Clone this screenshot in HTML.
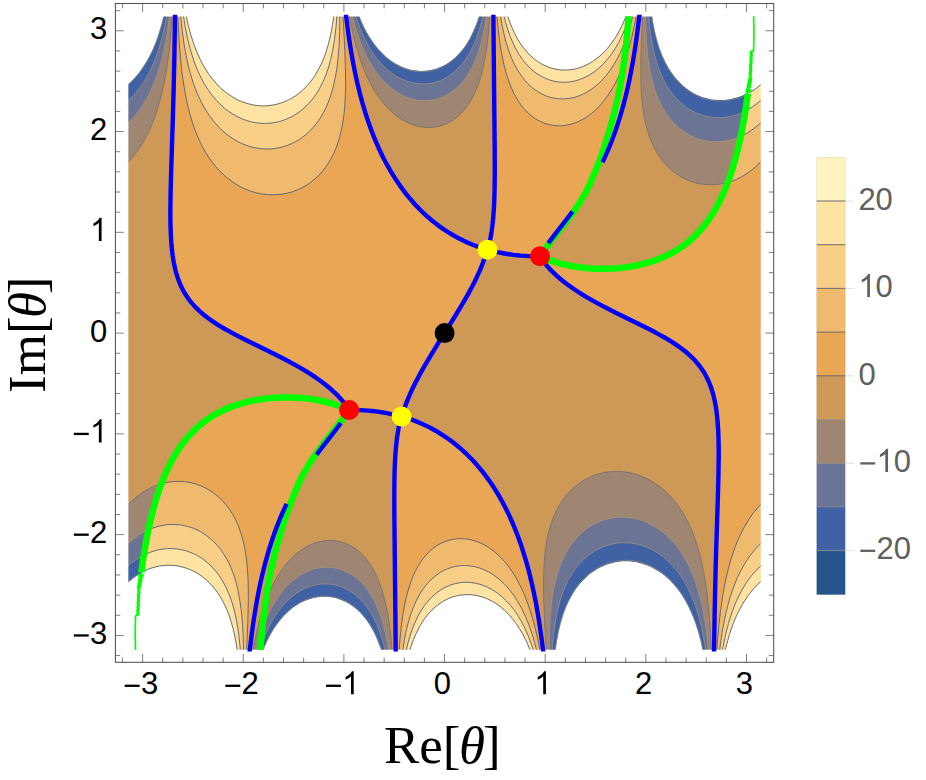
<!DOCTYPE html>
<html><head><meta charset="utf-8"><title>Contour plot</title>
<style>html,body{margin:0;padding:0;background:#fff}svg{display:block}text{font-family:"Liberation Sans",sans-serif}.se{font-family:"Liberation Serif",serif}</style></head><body>
<svg width="926" height="780" viewBox="0 0 926 780">
<defs><clipPath id="pc"><rect x="126.85" y="15.02" width="635.4" height="636.16"/></clipPath><clipPath id="pc3"><rect x="128.35" y="16.32" width="632.4" height="633.56"/></clipPath><clipPath id="pc2"><rect x="127.35" y="14.72" width="634.4" height="636.76"/></clipPath></defs>
<rect width="926" height="780" fill="#fff"/>
<g clip-path="url(#pc)">
<rect x="126.35" y="14.52" width="636.4" height="637.16" fill="#CE9957"/>
<path fill="#E9A755" fill-rule="evenodd" d="M134.3,652.5 249.5,652.5 252.1,631.4 255,611.7 258.3,593.1 262,576 264.1,567.4 266.2,559.3 268.4,551.6 270.9,543.5 273.4,536 276,529 278.5,522.5 281.5,515.2 287,503 290.1,497 293.6,490.3 297.1,484.1 300.6,478.2 308.2,466.5 313.2,459.3 318.7,451.8 335.3,430.3 340.2,423.8 345,416.7 347.3,413.2 348.9,410.2 349.4,410 353,410 361,410.1 368.6,410.6 376.1,411.4 383.7,412.6 391.7,414.2 397,415.7 399.1,416.7 399.6,417.2 400.1,418.3 400.1,419.3 400,420.8 397.5,434.9 396.7,440.9 396,447 395,461.1 394.5,477.7 394.3,494.8 394.4,516.5 395.7,652.5 543.3,652.5 541.7,639.5 540,627.3 538.2,615.6 536.1,604.2 534,593.1 531.6,582.5 529.1,572.2 526.6,562.9 523.6,552.8 520.5,543.6 517.5,535.3 514,526.4 510.5,518.2 506.4,509.8 502.4,502 498.4,494.9 493.9,487.6 489.3,480.9 484.8,474.7 479.8,468.3 474.7,462.5 469.2,456.7 463.7,451.4 458.1,446.5 452.6,442.1 447.1,438 441.5,434.3 436,431 429.5,427.4 422.4,424 416.4,421.4 405.3,417 403.8,416 403.3,415.2 403.2,414.7 403.3,412.7 404.1,409.7 405.5,405.2 407.6,399.6 410,394.1 412.5,388.5 415.5,382.5 418.7,376.4 424.3,366.4 430.8,355.3 453.3,319 461.3,305.9 468.5,293.3 474.1,282.7 479.1,272.1 483,262.6 484.6,258 485.6,254.5 485.9,252.5 485.8,251 485.6,250.5 485.1,250 483.3,249 472.7,244.8 466.7,242.2 460.2,239.1 453.6,235.5 448.1,232.2 442,228.2 436.5,224.1 431,219.7 425.4,214.8 419.9,209.5 414.4,203.7 409.3,197.9 404.3,191.5 399.8,185.3 395.2,178.6 390.7,171.3 386.7,164.2 382.7,156.4 378.6,148 375.1,139.8 371.6,130.9 368.6,122.6 365.5,113.4 362.5,103.3 360,94 357.5,83.7 355.1,73.1 353,62 350.9,50.6 349.1,38.9 347.4,26.7 345.8,13.7 175.1,13.7 174.5,52.5 173.7,88.7 170.6,191 170.4,209.2 170.5,223.8 170.8,233.8 171.4,242.9 172.2,251.5 173.2,259 174.5,266.1 176.1,272.6 178,278.7 180.4,284.7 182.8,289.8 185.4,294.2 188.1,298.3 191.4,302.6 194.9,306.6 199,310.5 203.4,314.5 208,318 212.6,321.2 217.6,324.5 223.4,328.1 229.7,331.6 243.2,338.7 272.8,353.3 286.6,360.3 300.3,367.9 306.2,371.4 311.8,374.9 318.5,379.5 324,383.5 329,387.5 334.1,392.1 338.7,396.6 342.8,401.1 346.3,405.7 348.9,409.7 348.4,409.9 347.9,409.4 347.4,409.4 346.9,408.9 346.4,408.9 345.9,408.4 345.4,408.4 344.9,407.9 343.9,407.9 343.4,407.4 342.9,407.4 342.4,406.9 341.4,406.9 340.9,406.4 339.9,406.4 339.4,405.9 338.4,405.9 337.9,405.4 337.4,405.4 336.9,404.9 335.8,404.9 335.3,404.4 333.8,404.4 333.3,403.9 332.3,403.9 331.8,403.4 330.8,403.4 330.3,402.9 328.8,402.9 328.3,402.4 326.8,402.4 326.3,401.9 324.8,401.9 324.3,401.4 322.3,401.4 321.8,400.9 320.2,400.9 319.7,400.4 317.7,400.4 317.2,399.9 314.7,399.9 314.2,399.4 311.2,399.4 310.7,398.9 307.7,398.9 307.2,398.3 302.6,398.3 302.1,397.8 295.6,397.8 295.1,397.3 278,397.3 277.5,397.8 270.4,397.8 269.9,398.3 265.9,398.3 265.4,398.9 261.9,398.9 261.4,399.4 258.9,399.4 258.3,399.9 255.8,399.9 255.3,400.4 253.3,400.4 252.8,400.9 250.8,400.9 250.3,401.4 248.8,401.4 248.3,401.9 246.8,401.9 246.3,402.4 244.8,402.4 244.3,402.9 242.7,402.9 242.2,403.4 241.2,403.4 240.7,403.9 239.2,403.9 238.7,404.4 237.7,404.4 237.2,404.9 236.2,404.9 235.7,405.4 234.7,405.4 234.2,405.9 233.2,405.9 232.7,406.4 232.2,406.4 231.7,406.9 230.7,406.9 230.2,407.4 229.7,407.4 229.2,407.9 228.2,407.9 227.6,408.4 227.1,408.4 226.6,408.9 225.6,408.9 225.1,409.4 224.6,409.4 224.1,409.9 223.6,409.9 223.1,410.4 222.6,410.4 222.1,410.9 221.6,410.9 221.1,411.4 220.6,411.4 220.1,412 219.6,412 219.1,412.5 218.6,412.5 218.1,413 217.6,413 217.1,413.5 216.6,413.5 216.1,414 215.6,414 214.6,415 214.1,415 213.6,415.5 213.1,415.5 212,416.5 211.5,416.5 210.5,417.5 210,417.5 209.5,418 209,418 207.5,419.5 207,419.5 206,420.5 205.5,420.5 204,422 203.5,422 202,423.5 201.5,423.5 198.5,426.6 198,426.6 188.1,436.4 188.1,436.9 185.6,439.4 185.6,439.9 183.6,441.9 183.6,442.4 182.1,443.9 182.1,444.5 180.6,446 180.6,446.5 179.6,447.5 179.6,448 178.6,449 178.6,449.5 177.6,450.5 177.6,451 176.6,452 176.6,452.5 176.1,453 176.1,453.5 175.1,454.5 175.1,455 174.6,455.5 174.6,456 173.5,457 173.5,457.6 173,458.1 173,458.6 172.5,459.1 172.5,459.6 171.5,460.6 171.5,461.1 171,461.6 171,462.1 170.5,462.6 170.5,463.1 170,463.6 170,464.1 169.5,464.6 169.5,465.1 169,465.6 169,466.1 168.5,466.6 168.5,467.1 168,467.6 168,468.1 167.5,468.6 167.5,469.1 167,469.6 167,470.7 166.5,471.2 166.5,471.7 166,472.2 166,472.7 165.5,473.2 165.5,473.7 165,474.2 165,475.2 164.5,475.7 164.5,476.2 164,476.7 164,477.2 163.5,477.7 163.5,478.7 163,479.2 163,479.7 162.5,480.2 162.5,481.2 162,481.7 162,482.7 161.5,483.2 161.5,483.8 161,484.3 161,485.3 160.5,485.8 160.5,486.8 160,487.3 160,487.8 159.5,488.3 159.5,489.3 159,489.8 159,490.8 158.5,491.3 158.5,492.3 157.9,492.8 157.9,493.8 157.4,494.3 157.4,495.3 156.9,495.8 156.9,496.9 156.4,497.4 156.4,498.9 155.9,499.4 155.9,500.4 155.4,500.9 155.4,501.9 154.9,502.4 154.9,503.9 154.4,504.4 154.4,505.4 153.9,505.9 153.9,507.4 153.4,507.9 153.4,509.4 152.9,510 152.9,511 152.4,511.5 152.4,513 151.9,513.5 151.9,515 151.4,515.5 151.4,517 150.9,517.5 150.9,519.5 150.4,520 150.4,521.5 149.9,522 149.9,523.6 149.4,524.1 149.4,526.1 148.9,526.6 148.9,528.1 148.4,528.6 148.4,530.6 147.9,531.1 147.9,533.1 147.4,533.6 147.4,535.6 146.9,536.2 146.9,538.2 146.4,538.7 146.4,541.2 145.9,541.7 145.9,543.7 145.4,544.2 145.4,546.7 144.9,547.2 144.9,549.8 144.4,550.3 144.4,552.8 143.9,553.3 143.9,555.8 143.4,556.3 143.4,559.3 142.9,559.8 142.9,562.4 142.3,562.9 142.3,565.9 141.8,566.4 141.8,569.9 141.3,570.4 141.3,573.4 140.8,573.9 140.8,577.5 140.3,578 140.3,581.5 139.8,582 139.8,586 139.3,586.5 139.3,590.6 138.8,591.1 138.8,595.1 138.3,595.6 138.3,600.1 137.8,600.6 137.8,605.7 137.3,606.2 137.3,611.2 136.8,611.7 136.8,617.3 136.3,617.8 136.3,623.3 135.8,623.8 135.8,630.4 135.3,630.9 135.3,637.4 134.8,637.9 134.8,645.5 134.3,646 134.3,652.5ZM714,652.5 763.6,652.5 763.6,13.7 754.8,13.7 754.8,20.2 754.3,20.7 754.3,28.3 753.8,28.8 753.8,35.3 753.3,35.8 753.3,42.4 752.8,42.9 752.8,48.4 752.3,48.9 752.3,54.5 751.8,55 751.8,60 751.3,60.5 751.3,65.6 750.8,66.1 750.8,70.6 750.3,71.1 750.3,75.1 749.8,75.6 749.8,79.7 749.3,80.2 749.3,84.2 748.8,84.7 748.8,88.2 748.3,88.7 748.3,92.3 747.8,92.8 747.8,95.8 747.3,96.3 747.3,99.8 746.8,100.3 746.8,103.3 746.2,103.8 746.2,106.4 745.7,106.9 745.7,109.9 745.2,110.4 745.2,112.9 744.7,113.4 744.7,115.9 744.2,116.4 744.2,119 743.7,119.5 743.7,122 743.2,122.5 743.2,124.5 742.7,125 742.7,127.5 742.2,128 742.2,130 741.7,130.6 741.7,132.6 741.2,133.1 741.2,135.1 740.7,135.6 740.7,137.6 740.2,138.1 740.2,139.6 739.7,140.1 739.7,142.1 739.2,142.6 739.2,144.2 738.7,144.7 738.7,146.2 738.2,146.7 738.2,148.7 737.7,149.2 737.7,150.7 737.2,151.2 737.2,152.7 736.7,153.2 736.7,154.7 736.2,155.2 736.2,156.2 735.7,156.8 735.7,158.3 735.2,158.8 735.2,160.3 734.7,160.8 734.7,161.8 734.2,162.3 734.2,163.8 733.7,164.3 733.7,165.3 733.2,165.8 733.2,166.8 732.7,167.3 732.7,168.8 732.2,169.3 732.2,170.4 731.7,170.9 731.7,171.9 731.2,172.4 731.2,173.4 730.6,173.9 730.6,174.9 730.1,175.4 730.1,176.4 729.6,176.9 729.6,177.9 729.1,178.4 729.1,178.9 728.6,179.4 728.6,180.4 728.1,180.9 728.1,181.9 727.6,182.4 727.6,183 727.1,183.5 727.1,184.5 726.6,185 726.6,186 726.1,186.5 726.1,187 725.6,187.5 725.6,188.5 725.1,189 725.1,189.5 724.6,190 724.6,190.5 724.1,191 724.1,192 723.6,192.5 723.6,193 723.1,193.5 723.1,194 722.6,194.5 722.6,195 722.1,195.5 722.1,196.6 721.6,197.1 721.6,197.6 721.1,198.1 721.1,198.6 720.6,199.1 720.6,199.6 720.1,200.1 720.1,200.6 719.6,201.1 719.6,201.6 719.1,202.1 719.1,202.6 718.6,203.1 718.6,203.6 718.1,204.1 718.1,204.6 717.6,205.1 717.6,205.6 716.6,206.6 716.6,207.1 716.1,207.6 716.1,208.1 715.6,208.6 715.6,209.2 714.5,210.2 714.5,210.7 714,211.2 714,211.7 713,212.7 713,213.2 712.5,213.7 712.5,214.2 711.5,215.2 711.5,215.7 710.5,216.7 710.5,217.2 709.5,218.2 709.5,218.7 708.5,219.7 708.5,220.2 707,221.7 707,222.3 705.5,223.8 705.5,224.3 703.5,226.3 703.5,226.8 701,229.3 701,229.8 691.1,239.6 690.6,239.6 687.6,242.7 687.1,242.7 685.6,244.2 685.1,244.2 683.6,245.7 683.1,245.7 682.1,246.7 681.6,246.7 680.1,248.2 679.6,248.2 679.1,248.7 678.6,248.7 677.6,249.7 677.1,249.7 676,250.7 675.5,250.7 675,251.2 674.5,251.2 673.5,252.2 673,252.2 672.5,252.7 672,252.7 671.5,253.2 671,253.2 670.5,253.7 670,253.7 669.5,254.2 669,254.2 668.5,254.8 668,254.8 667.5,255.3 667,255.3 666.5,255.8 666,255.8 665.5,256.3 665,256.3 664.5,256.8 664,256.8 663.5,257.3 662.5,257.3 662,257.8 661.5,257.8 660.9,258.3 659.9,258.3 659.4,258.8 658.9,258.8 658.4,259.3 657.4,259.3 656.9,259.8 656.4,259.8 655.9,260.3 654.9,260.3 654.4,260.8 653.4,260.8 652.9,261.3 651.9,261.3 651.4,261.8 650.4,261.8 649.9,262.3 648.4,262.3 647.9,262.8 646.9,262.8 646.4,263.3 644.8,263.3 644.3,263.8 642.8,263.8 642.3,264.3 640.8,264.3 640.3,264.8 638.8,264.8 638.3,265.3 636.3,265.3 635.8,265.8 633.8,265.8 633.3,266.3 630.8,266.3 630.2,266.8 627.7,266.8 627.2,267.3 623.7,267.3 623.2,267.9 619.2,267.9 618.7,268.4 611.6,268.4 611.1,268.9 594,268.9 593.5,268.4 587,268.4 586.5,267.9 581.9,267.9 581.4,267.3 578.4,267.3 577.9,266.8 574.9,266.8 574.4,266.3 571.9,266.3 571.4,265.8 569.4,265.8 568.9,265.3 567.3,265.3 566.8,264.8 564.8,264.8 564.3,264.3 562.8,264.3 562.3,263.8 560.8,263.8 560.3,263.3 558.8,263.3 558.3,262.8 557.3,262.8 556.8,262.3 555.8,262.3 555.3,261.8 553.8,261.8 553.3,261.3 552.2,261.3 551.7,260.8 551.2,260.8 550.7,260.3 549.7,260.3 549.2,259.8 548.2,259.8 547.7,259.3 546.7,259.3 546.2,258.8 545.7,258.8 545.2,258.3 544.2,258.3 543.7,257.8 543.2,257.8 542.7,257.3 542.2,257.3 541.7,256.8 541.2,256.8 540.7,256.3 540.2,256.5 542.8,260.5 546.3,265.1 550.4,269.6 555,274.1 560.1,278.7 565.1,282.7 570.6,286.7 577.3,291.3 582.9,294.8 588.8,298.3 602.5,305.9 616.3,312.9 645.9,327.5 659.4,334.6 665.7,338.1 671.5,341.7 676.5,345 681.1,348.2 685.7,351.7 690.1,355.7 694.2,359.6 697.7,363.6 701,367.9 703.7,372 706.3,376.4 708.7,381.5 711.1,387.5 713,393.6 714.6,400.1 715.9,407.2 716.9,414.7 717.7,423.3 718.3,432.4 718.6,442.4 718.7,457 718.5,475.2 715.4,577.5 714.6,613.7 714,652.5ZM527,256 537.1,256.2 539.7,256.2 540.2,256 543.4,250.5 548.6,242.9 553.4,236.4 571.9,212.4 577.9,204.1 583.4,195.9 589,187.2 594.5,177.7 599.6,168.3 604.1,158.9 607.6,151 610.6,143.7 613.6,135.8 616.2,128.8 618.7,121.1 621.2,112.9 623.7,103.8 625.9,95.3 628,86.2 630.1,76.6 631.9,67.1 633.7,57 636.8,36.4 639.6,13.7 493.4,13.7 494.7,149.7 494.8,171.4 494.6,188.5 494.1,205.1 493.1,219.2 492.4,225.3 491.6,231.3 489.1,245.4 489,246.9 489,247.9 489.3,248.8 489.8,249.3 491.4,250.2 495.5,251.5 500.4,252.7 507,253.9 513.5,254.8 520,255.5 527,256Z"/>
<path fill="#F0BA6E" fill-rule="evenodd" d="M134.3,652.5 246.5,652.5 247.6,627.9 248.2,609.2 248.4,594.1 248.1,580.5 247.4,567.9 246.2,556.8 244.5,546.7 243.5,542.2 242.2,537.4 240.8,532.6 239.2,528.1 237.4,523.6 235.5,519.5 233.4,515.5 231.2,511.8 228.7,508.1 226.1,504.9 223.6,501.9 220.6,498.8 217.6,496.1 214.1,493.3 211,491.2 207.5,489.1 204,487.2 200,485.5 194.9,483.8 189.9,482.5 184.9,481.8 179.8,481.4 174.3,481.5 168.8,482.1 165.2,482.8 161.7,483.6 161.2,484.3 161.2,485.3 160.7,485.8 160.7,486.8 160.2,487.3 160.2,487.8 159.7,488.3 159.7,489.3 159.2,489.8 159.2,490.8 158.7,491.3 158.7,492.3 158.2,492.8 158.2,493.8 157.7,494.3 157.7,495.3 157.2,495.8 157.1,496.9 156.6,497.4 156.6,498.9 156.1,499.4 156.1,500.4 155.6,500.9 155.6,501.9 155.1,502.4 155.1,503.9 154.6,504.4 154.6,505.4 154.1,505.9 154.1,507.4 153.6,507.9 153.6,509.4 153.1,510 153.1,511 152.6,511.5 152.6,513 152.1,513.5 152.1,515 151.6,515.5 151.6,517 151.1,517.5 151.1,519.5 150.5,520 150.5,521.5 150,522 150,523.6 149.5,524.1 149.5,526.1 149,526.6 149,528.1 148.5,528.6 148.5,530.6 148,531.1 148,533.1 147.5,533.6 147.5,535.6 147,536.2 147,538.2 146.5,538.7 146.5,541.2 146,541.7 146,543.7 145.5,544.2 145.5,546.7 145,547.2 145,549.8 144.5,550.3 144.4,552.8 143.9,553.3 143.9,555.8 143.4,556.3 143.4,559.3 142.9,559.8 142.9,562.4 142.4,562.9 142.4,565.9 141.9,566.4 141.9,569.9 141.4,570.4 141.4,573.4 140.9,573.9 140.9,577.5 140.4,578 140.4,581.5 139.9,582 139.9,586 139.4,586.5 139.4,590.6 138.9,591.1 138.9,595.1 138.4,595.6 138.4,600.1 137.9,600.6 137.9,605.7 137.4,606.2 137.3,611.2 136.8,611.7 136.8,617.3 136.3,617.8 136.3,623.3 135.8,623.8 135.8,630.4 135.3,630.9 135.3,637.4 134.8,637.9 134.8,645.5 134.3,646 134.3,652.5ZM399,652.5 540.3,652.5 537.7,638.9 534.9,626.8 531.6,615 528.2,604.7 524.6,595.2 520.4,586 516,577.8 513.5,573.7 511,569.9 508.5,566.4 505.4,562.6 502.9,559.7 499.9,556.6 496.9,553.8 493.9,551.2 490.8,549 487.8,547 484.3,544.9 481.3,543.4 477.8,541.9 474.2,540.7 470.7,539.8 467.2,539.1 464.2,538.8 460.7,538.6 457.1,538.8 454.1,539.1 451.1,539.7 448.1,540.5 445.1,541.5 442,542.8 439,544.4 436,546.2 433,548.4 430.5,550.6 427.9,553 425.4,555.7 422.9,558.8 420.9,561.6 418.9,564.7 416.9,568.2 415,571.9 413.3,575.5 410.3,583.3 407.6,592.1 405.2,602.2 403.2,612.7 401.5,624.8 400.1,637.9 399,652.5ZM716.7,652.5 763.6,652.5 763.6,501.5 758.6,506.6 753.5,512.7 749,519.2 745,525.8 741.1,533.1 737.6,540.7 734.4,548.9 731.4,557.8 728.8,566.9 726.3,577 724.1,587.5 722.2,599.1 720.5,611.2 719,623.8 717.8,637.4 716.7,652.5ZM266.5,194.5 271.9,194.8 277.5,194.6 283,194 288,193 293.1,191.5 298.1,189.6 303.1,187.1 307.6,184.5 312.2,181.2 316.2,177.8 320.2,173.9 323.6,169.9 326.8,165.6 329.9,160.8 332.6,155.7 335.2,150.2 337.1,145.2 339,139.6 340.5,134.1 341.8,128 342.9,122 343.8,115.4 344.6,108.4 345.1,100.8 345.4,93.8 345.6,85.7 345.4,67.6 344.6,45.9 342.9,13.7 177.7,13.7 178.8,36.5 180.4,57 181.3,66.6 182.4,75.2 183.6,83.7 184.9,91.6 186.4,99.3 187.9,106.3 189.7,113.4 191.6,120 193.7,126.5 195.9,132.5 198.3,138.1 200.9,143.7 203.8,149.2 206.7,154.2 210,159.3 213.4,163.8 217.1,168.2 220.6,172 224.6,175.8 228.7,179.1 233.2,182.4 237.7,185.3 242.2,187.7 246.8,189.7 251.3,191.4 256.3,192.8 261.4,193.9 266.5,194.5ZM728.4,181.9 728.4,182.3 730.4,181.7 733.4,180.6 736.9,179.1 742,176.6 746.5,173.8 751,170.6 755.6,166.9 759.6,163.1 763.6,158.8 763.6,13.7 754.8,13.7 754.8,20.2 754.3,20.7 754.3,28.3 753.8,28.8 753.8,35.3 753.3,35.8 753.3,42.4 752.8,42.9 752.8,48.4 752.3,48.9 752.3,54.5 751.8,55 751.8,60 751.3,60.5 751.3,65.6 750.8,66.1 750.8,70.6 750.3,71.1 750.3,75.1 749.8,75.6 749.8,79.7 749.3,80.2 749.3,84.2 748.8,84.7 748.8,88.2 748.3,88.7 748.3,92.3 747.8,92.8 747.8,95.8 747.3,96.3 747.3,99.8 746.8,100.3 746.8,103.3 746.3,103.8 746.3,106.4 745.8,106.9 745.8,109.9 745.3,110.4 745.3,112.9 744.8,113.4 744.8,115.9 744.3,116.4 744.3,119 743.8,119.5 743.8,122 743.3,122.5 743.3,124.5 742.8,125 742.8,127.5 742.3,128 742.3,130 741.8,130.6 741.8,132.6 741.3,133.1 741.3,135.1 740.8,135.6 740.8,137.6 740.3,138.1 740.3,139.6 739.8,140.1 739.8,142.1 739.3,142.6 739.3,144.2 738.8,144.7 738.8,146.2 738.3,146.7 738.3,148.7 737.8,149.2 737.9,150.7 737.3,151.2 737.4,152.7 736.9,153.2 736.9,154.7 736.4,155.2 736.4,156.2 735.9,156.8 735.9,158.3 735.4,158.8 735.4,160.3 734.9,160.8 734.9,161.8 734.4,162.3 734.4,163.8 733.9,164.3 733.9,165.3 733.4,165.8 733.4,166.8 732.9,167.3 732.9,168.8 732.4,169.3 732.4,170.4 731.9,170.9 731.9,171.9 731.4,172.4 731.4,173.4 730.9,173.9 730.9,174.9 730.4,175.4 730.4,176.4 729.9,176.9 729.9,177.9 729.4,178.4 729.4,178.9 728.9,179.4 728.9,180.4 728.4,180.9 728.4,181.9ZM554.2,125.5 557.8,125.8 561.3,125.7 564.8,125.4 568.3,124.8 571.9,123.9 575.4,122.8 578.9,121.3 581.9,119.8 585.5,117.8 588.5,115.8 591.5,113.5 594.5,110.9 597.5,108.1 600.6,104.9 603.6,101.3 606.1,98.1 608.6,94.5 611.1,90.6 613.6,86.3 615.8,82.2 618.2,77.5 620.2,73 622.2,68.1 624.2,62.8 627.7,52.1 631,40.4 633.8,27.8 636.5,13.7 496.7,13.7 498,27.3 499.5,39.9 501.2,51.4 503.2,61.5 505.4,70.6 508.1,79.2 511,86.9 512.7,90.7 514.4,94.3 518,100.6 520,103.6 522.1,106.4 524.2,108.9 526.6,111.5 529.1,113.9 531.6,116 534.1,117.8 536.6,119.5 539.2,120.9 542.2,122.3 545.2,123.5 548.2,124.4 551.2,125.1 554.2,125.5Z"/>
<path fill="#F9CF87" fill-rule="evenodd" d="M134.3,652.5 243.5,652.5 243.2,639.4 242.7,627.3 241.9,616.8 240.8,606.7 239.4,597.6 237.7,589.1 235.6,581 233.2,573.4 230.4,566.4 227.1,559.8 223.6,553.8 219.6,548.2 217.5,545.7 215.1,543 210.5,538.7 208,536.7 205.5,534.8 203,533.1 200,531.4 197,529.8 193.9,528.5 190.9,527.4 187.9,526.5 184.9,525.7 181.4,525.1 178.3,524.7 174.8,524.5 171.8,524.4 168.3,524.6 165.2,524.9 161.7,525.5 158.2,526.3 155.2,527.2 151.7,528.5 148.6,529.7 148.6,530.6 148.1,531.1 148.1,533.1 147.6,533.6 147.6,535.6 147.1,536.2 147.1,538.2 146.6,538.7 146.6,541.2 146.1,541.7 146.1,543.7 145.6,544.2 145.6,546.7 145.1,547.2 145,549.8 144.5,550.3 144.5,552.8 144,553.3 144,555.8 143.5,556.3 143.5,559.3 143,559.8 143,562.4 142.5,562.9 142.5,565.9 142,566.4 142,569.9 141.5,570.4 141.5,573.4 141,573.9 141,577.5 140.4,578 140.4,581.5 139.9,582 139.9,586 139.4,586.5 139.4,590.6 138.9,591.1 138.9,595.1 138.4,595.6 138.4,600.1 137.9,600.6 137.9,605.7 137.4,606.2 137.4,611.2 136.9,611.7 136.9,617.3 136.4,617.8 136.4,623.3 135.9,623.8 135.9,630.4 135.3,630.9 135.3,637.4 134.8,637.9 134.8,645.5 134.3,646 134.3,652.5ZM402.4,652.5 537.2,652.5 534.6,642.4 531.9,633.4 528.7,624.3 525.4,616.3 521.8,608.7 517.8,601.7 513.5,595 509,589.1 506.4,586.2 503.9,583.6 498.9,579 493.9,575.2 491.4,573.6 488.3,571.8 485.8,570.6 482.8,569.2 479.8,568.1 476.8,567.2 473.7,566.5 470.7,566 467.7,565.7 464.7,565.6 461.7,565.6 458.6,565.9 455.6,566.4 453.1,567 450.6,567.7 447.6,568.8 444.6,570.1 442,571.4 439.5,572.9 437,574.7 434.5,576.6 432,578.8 429.5,581.3 427.4,583.5 423.4,588.5 419.8,594.1 416.4,600.4 413.2,607.7 410.4,615.3 407.9,623.8 405.8,632.6 404,642 402.4,652.5ZM719.4,652.5 763.6,652.5 763.6,540.9 759.1,545.1 755.1,549.4 751,554.4 747.5,559.3 744,564.9 740.7,570.9 737.5,577.5 734.8,584 732.2,591.1 729.7,598.6 727.5,606.7 725.5,614.8 723.8,623.3 722.1,632.4 720.7,642 719.4,652.5ZM261,148.7 265.4,149 269.9,148.9 274.5,148.6 279,147.8 283,146.8 287.5,145.4 291.6,143.7 295.6,141.7 299.6,139.3 303.1,136.8 306.7,133.9 310.2,130.6 313.2,127.4 316.2,123.7 319.2,119.5 321.8,115.4 324.3,111 326.3,106.8 328.3,102.1 330.1,97.3 331.7,92.3 333.2,86.7 334.5,81.2 335.7,75.1 336.7,69.1 337.6,62.5 338.3,55.5 338.9,48.4 339.7,32.3 339.9,13.7 180.4,13.7 182,29.3 184,43.9 185.2,50.9 186.5,57.5 187.9,63.8 189.3,69.6 190.9,75.3 192.6,80.7 194.4,86.1 196.4,91.4 198.5,96.1 200.7,100.8 203,105.3 205.3,109.4 208,113.6 210.5,117.3 213.6,121.2 216.6,124.7 219.6,127.9 223.1,131.3 226.6,134.3 230.2,136.9 233.7,139.2 237.7,141.5 241.2,143.3 245.3,144.9 249.3,146.3 253.3,147.4 257.3,148.2 261,148.7ZM741,136.1 741,136.3 746,133.7 749.5,131.6 752.5,129.5 755.6,127.3 758.1,125.2 761.1,122.4 763.6,119.9 763.6,13.7 754.8,13.7 754.8,20.2 754.3,20.7 754.3,28.3 753.8,28.8 753.8,35.3 753.3,35.8 753.3,42.4 752.8,42.9 752.8,48.4 752.3,48.9 752.4,54.5 751.8,55 751.9,60 751.4,60.5 751.4,65.6 750.9,66.1 750.9,70.6 750.4,71.1 750.4,75.1 749.9,75.6 749.9,79.7 749.4,80.2 749.4,84.2 748.9,84.7 748.9,88.2 748.4,88.7 748.4,92.3 747.9,92.8 747.9,95.8 747.4,96.3 747.4,99.8 746.9,100.3 746.9,103.3 746.4,103.8 746.4,106.4 745.9,106.9 745.9,109.9 745.4,110.4 745.4,112.9 744.9,113.4 744.9,115.9 744.4,116.4 744.4,119 743.9,119.5 743.9,122 743.4,122.5 743.4,124.5 742.9,125 742.9,127.5 742.4,128 742.5,130 741.9,130.6 742,132.6 741.5,133.1 741.5,135.1 741,135.6 741,136.1ZM559,98.8 561.8,98.9 564.8,98.9 567.8,98.6 570.9,98.1 573.9,97.5 576.9,96.6 579.9,95.5 582.9,94.2 586,92.7 588.5,91.2 591,89.6 594,87.4 597,84.9 599.6,82.6 602.1,80.1 604.6,77.4 609.1,71.7 613.6,65 617.7,58 621.2,50.8 624.7,42.4 627.7,34 630.8,24.1 633.4,13.7 500.1,13.7 501.8,23.7 503.7,32.8 505.8,41.4 508.1,48.9 510.9,56.5 513.8,63 517,69.1 520.5,74.7 524.6,80 528.6,84.4 533.1,88.4 535.6,90.3 538.2,91.9 540.7,93.4 543.2,94.7 548.2,96.7 550.7,97.4 553.8,98.1 556.3,98.5 559,98.8Z"/>
<path fill="#FEE3A2" fill-rule="evenodd" d="M134.3,652.5 240.5,652.5 239.8,643.5 238.9,635.4 237.8,627.9 236.5,620.3 235.1,613.7 233.4,607.2 231.6,601.1 229.4,595.1 227.1,589.8 224.5,584.5 221.6,579.4 218.6,574.9 215.6,571 212,567 208.5,563.6 204.5,560.3 201,557.8 197.5,555.7 193.9,553.8 190.4,552.3 186.9,551.1 182.9,550 179.3,549.3 175.3,548.8 171.8,548.6 167.8,548.6 163.7,549 159.7,549.6 155.7,550.5 151.7,551.8 148.1,553.1 144.1,554.9 144.1,555.8 143.6,556.3 143.6,559.3 143.1,559.8 143.1,562.4 142.6,562.9 142.6,565.9 142.1,566.4 142,569.9 141.5,570.4 141.5,573.4 141,573.9 141,577.5 140.5,578 140.5,581.5 140,582 140,586 139.5,586.5 139.5,590.6 139,591.1 139,595.1 138.4,595.6 138.4,600.1 137.9,600.6 137.9,605.7 137.4,606.2 137.4,611.2 136.9,611.7 136.9,617.3 136.4,617.8 136.4,623.3 135.9,623.8 135.9,630.4 135.4,630.9 135.4,637.4 134.9,637.9 134.9,645.5 134.3,646 134.3,652.5ZM405.8,652.5 534.2,652.5 531.6,644.7 528.6,636.7 525.6,629.7 522.1,622.7 518.5,616.6 514.5,610.6 510.5,605.4 506.4,601 501.9,596.7 497.4,593.1 492.4,589.8 487.3,587.1 482.3,585.1 479.8,584.3 476.8,583.5 471.7,582.6 468.7,582.4 466.2,582.3 463.2,582.4 460.7,582.6 455.6,583.5 450.6,585 445.6,587.2 441,589.7 436.5,592.9 432,596.9 427.9,601.1 424.4,605.6 420.9,610.9 417.9,616.3 414.9,622.7 412.2,629.4 409.8,636.5 407.7,644 405.8,652.5ZM722.1,652.5 763.6,652.5 763.6,563.4 759.6,566.9 756.1,570.5 752.5,574.5 749,579 746,583.3 743,588.2 740,593.7 737.4,598.8 734.9,604.6 732.6,610.7 730.4,617.1 728.5,623.3 726.6,630.4 725,637.4 723.4,645 722.1,652.5ZM257.6,123 261.4,123.3 265.4,123.4 269.4,123.3 273.4,122.8 277.5,122 281.5,120.9 285.5,119.5 289,118 292.6,116.2 296.1,114.1 299.6,111.7 302.6,109.3 305.7,106.6 308.7,103.5 311.7,100 314.2,96.7 316.7,93.1 319.1,89.2 321.3,85.2 323.2,81.2 325.2,76.6 326.8,72.4 328.3,67.9 329.8,62.8 331.2,57.5 332.3,52.2 333.4,46.4 334.3,40.7 335.9,27.8 337,13.7 183.1,13.7 185,25.8 187.3,37.3 189.9,48 192.9,58 196.2,67.1 200,75.5 204,83.2 206.1,86.7 208.5,90.4 211,93.9 213.6,97.1 216.1,100 219.1,103.2 221.6,105.6 224.6,108.3 227.6,110.6 230.7,112.8 233.7,114.7 237.2,116.6 240.2,118.1 243.8,119.5 247.3,120.7 250.8,121.7 254.3,122.5 257.6,123ZM745.5,110.9 745.5,111 749.5,108.8 754.6,105.4 759.1,101.8 763.6,97.6 763.6,13.7 754.9,13.7 754.9,20.2 754.4,20.7 754.4,28.3 753.9,28.8 753.9,35.3 753.4,35.8 753.4,42.4 752.9,42.9 752.9,48.4 752.4,48.9 752.4,54.5 751.9,55 751.9,60 751.4,60.5 751.4,65.6 750.9,66.1 750.9,70.6 750.4,71.1 750.4,75.1 749.9,75.6 749.9,79.7 749.4,80.2 749.4,84.2 748.9,84.7 748.9,88.2 748.4,88.7 748.4,92.3 747.9,92.8 748,95.8 747.5,96.3 747.5,99.8 747,100.3 747,103.3 746.5,103.8 746.5,106.4 746,106.9 746,109.9 745.5,110.4 745.5,110.9ZM560.8,82.2 563.3,82.3 566.3,82.2 569.4,82 571.9,81.6 574.9,81 577.4,80.3 582.4,78.5 587.5,76.1 592.5,73.1 597.5,69.3 602.1,65.2 606.6,60.3 610.6,55.2 614.6,49.3 618.2,43.3 621.7,36.4 624.7,29.5 627.7,21.5 630.3,13.7 503.5,13.7 505.4,21.6 507.5,28.6 510,35.8 512.5,42 515.3,47.9 518.4,53.5 521.5,58.2 525.1,62.8 529.1,67.2 533.1,70.8 537.1,73.8 541.7,76.6 546.2,78.8 551.2,80.5 555.8,81.6 560.8,82.2Z"/>
<path fill="#FFF3C2" fill-rule="evenodd" d="M134.4,652.5 237.5,652.5 236,642.5 234.1,632.9 231.8,623.8 229.2,615.8 226.1,608.1 222.8,601.1 219.1,594.9 217.1,591.9 214.9,589.1 212.6,586.2 210,583.4 207.5,581 205,578.7 202.5,576.7 199.5,574.6 197,573 193.9,571.4 190.9,569.9 187.9,568.7 184.9,567.7 181.9,566.8 178.8,566.2 175.3,565.6 171.8,565.3 168.8,565.3 165.2,565.4 161.7,565.7 158.2,566.3 154.7,567.1 151.2,568.2 148.1,569.3 144.6,570.8 141.6,572.3 141.6,573.4 141.1,573.9 141.1,577.5 140.6,578 140.6,581.5 140,582 140,586 139.5,586.5 139.5,590.6 139,591.1 139,595.1 138.5,595.6 138.5,600.1 138,600.6 138,605.7 137.5,606.2 137.4,611.2 136.9,611.7 136.9,617.3 136.4,617.8 136.4,623.3 135.9,623.8 135.9,630.4 135.4,630.9 135.4,637.4 134.9,637.9 134.9,645.5 134.4,646 134.4,652.5ZM409.2,652.5 531,652.5 528.4,646 525.6,639.7 522.6,633.8 519.3,628.4 516,623.4 512.5,618.7 508.5,614.1 504.4,610.1 500.4,606.7 495.9,603.5 491.4,600.8 486.3,598.4 481.8,596.8 476.8,595.5 472.2,594.8 467.2,594.6 462.2,594.9 457.6,595.6 453.1,596.8 448.6,598.5 444,600.8 440,603.3 436,606.3 432,610 428.4,613.8 424.9,618.2 421.9,622.7 418.9,627.9 416.2,633.4 413.6,639.4 411.3,645.6 409.2,652.5ZM724.8,652.5 763.6,652.5 763.6,579.1 760.1,582.1 757.1,585 754,588.2 750.8,592.1 748,595.7 745,600.1 742.5,604.2 740,608.8 737.7,613.2 735.4,618.3 733.4,623.2 731.4,628.7 729.5,634.4 727.9,640.1 726.3,646 724.8,652.5ZM263.3,105.9 266.4,105.8 269.9,105.5 273.4,105 277,104.2 280.5,103.2 283.5,102.1 286.5,100.9 289.5,99.4 292.6,97.7 295.6,95.8 298.6,93.6 301.1,91.5 303.6,89.3 306.2,86.7 308.7,84 311.2,80.9 313.5,77.6 315.5,74.6 319.2,68.1 321,64.5 322.8,60.7 325.8,52.7 328.3,44.4 330.7,34.8 332.5,24.7 334.1,13.7 185.8,13.7 188,24.2 190.7,34.3 193.5,43.4 197,52.3 200.5,60 204.5,67.5 206.7,71.1 209,74.5 211.5,77.9 213.8,80.7 216.6,83.9 219.1,86.5 221.6,88.8 224.6,91.4 227.6,93.7 230.7,95.8 233.7,97.7 236.7,99.3 239.7,100.7 243.2,102.2 246.3,103.2 249.8,104.2 253.3,105 256.3,105.4 259.9,105.8 263.3,105.9ZM748,93.3 748,93.6 751.5,91.6 755.1,89.2 759.6,85.7 763.6,82 763.6,13.7 754.9,13.7 754.9,20.2 754.4,20.7 754.4,28.3 753.9,28.8 753.9,35.3 753.4,35.8 753.4,42.4 752.9,42.9 752.9,48.4 752.4,48.9 752.4,54.5 751.9,55 751.9,60 751.4,60.5 751.4,65.6 750.9,66.1 750.9,70.6 750.4,71.1 750.5,75.1 750,75.6 750,79.7 749.5,80.2 749.5,84.2 749,84.7 749,88.2 748.5,88.7 748.5,92.3 748,92.8 748,93.3ZM563.4,70.1 568.3,70 573.4,69.3 577.9,68.3 582.9,66.5 587.5,64.5 592,61.9 596.5,58.7 600.6,55.4 604.6,51.5 608.1,47.6 611.6,43.1 615.2,38 618.2,32.8 621.4,26.8 624.2,20.7 627.1,13.7 506.9,13.7 509,19.9 511.4,26.3 513.8,31.8 516.5,37.1 519.5,42.2 522.6,46.6 526.1,51.1 529.6,54.8 533.1,58.1 537.1,61.2 541.2,63.7 545.7,66 549.7,67.6 554.3,68.9 558.8,69.7 563.4,70.1Z"/>
<path fill="#FFFFFF" fill-rule="evenodd" d="M134.4,652.5 237.4,652.5 235.8,642.5 233.8,632.9 231.6,624.3 229,616.3 226,608.7 222.6,601.9 218.9,595.6 216.9,592.6 214.6,589.5 212.5,587 210,584.4 207.5,581.9 205,579.7 202.5,577.7 199.5,575.5 196.4,573.6 193.9,572.3 190.9,570.8 187.9,569.6 184.9,568.6 181.9,567.7 178.8,567.1 175.3,566.5 172.3,566.2 168.8,566.1 165.2,566.2 161.2,566.6 157.7,567.3 153.7,568.2 149.1,569.7 145.1,571.4 141.6,573.1 141.6,573.4 141.1,573.9 141.1,577.5 140.6,578 140.6,581.5 140,582 140,586 139.5,586.5 139.5,590.6 139,591.1 139,595.1 138.5,595.6 138.5,600.1 138,600.6 138,605.7 137.5,606.2 137.4,611.2 136.9,611.7 136.9,617.3 136.4,617.8 136.4,623.3 135.9,623.8 135.9,630.4 135.4,630.9 135.4,637.4 134.9,637.9 134.9,645.5 134.4,646 134.4,652.5ZM409.4,652.5 530.8,652.5 528.1,645.8 525.4,639.9 522.3,633.9 519,628.4 515.5,623.2 512,618.7 508.5,614.7 504.4,610.7 500.4,607.3 495.9,604.1 491.4,601.4 486.8,599.2 482.3,597.5 477.3,596.2 472.2,595.4 467.7,595.2 462.7,595.4 458.1,596.1 453.6,597.3 449.1,599 444.6,601.1 440.5,603.6 436.5,606.6 432.5,610.2 428.9,613.9 425.4,618.2 422.4,622.6 419.3,627.9 416.4,633.6 413.9,639.5 411.5,646 409.4,652.5ZM725,652.5 763.6,652.5 763.6,579.9 760.1,582.9 757.1,585.8 754,589 751,592.5 748,596.5 745.5,600.1 742.7,604.7 740.1,609.2 737.8,613.7 735.5,618.8 733.4,624 731.6,628.9 729.8,634.4 728,640.4 726.4,646.6 725,652.5ZM259.9,104.9 263.4,105 266.9,104.9 270.4,104.5 273.9,104 277.5,103.1 280.5,102.3 284,101 287,99.7 290.1,98.2 293.1,96.5 296.1,94.5 299.1,92.2 302.1,89.7 304.6,87.3 307.2,84.7 309.7,81.8 312.1,78.7 314.2,75.6 316.2,72.5 318.2,69 320.2,65.1 321.9,61.5 323.6,57.5 325.3,53.1 328,44.4 330.4,34.8 332.3,24.7 333.9,13.7 186,13.7 188.2,24.2 190.8,33.8 193.7,42.9 196.7,50.9 200.1,58.5 204,65.8 208.3,72.6 212.8,78.7 217.6,84.1 220.1,86.6 223.1,89.3 225.6,91.4 228.7,93.6 231.7,95.6 234.7,97.4 237.7,98.9 240.7,100.3 243.8,101.5 246.8,102.5 250.3,103.4 253.3,104.1 256.8,104.6 259.9,104.9ZM748.5,92.3 748.5,92.6 752,90.4 755.6,88 759.6,84.9 763.6,81.2 763.6,13.7 754.9,13.7 754.9,20.2 754.4,20.7 754.4,28.3 753.9,28.8 753.9,35.3 753.4,35.8 753.4,42.4 752.9,42.9 752.9,48.4 752.4,48.9 752.4,54.5 751.9,55 751.9,60 751.4,60.5 751.4,65.6 750.9,66.1 751,70.6 750.4,71.1 750.5,75.1 750,75.6 750,79.7 749.5,80.2 749.5,84.2 749,84.7 749,88.2 748.5,88.7 748.5,92.3ZM558.8,69.1 563.8,69.5 568.9,69.3 573.9,68.6 578.9,67.3 584,65.5 588.5,63.3 593.5,60.3 598,57 602.6,52.9 606.6,48.8 610.6,43.9 614.1,38.9 617.7,33.3 620.9,27.3 624,20.7 626.9,13.7 507.1,13.7 509.1,19.7 511.2,25.2 513.5,30.4 516,35.5 518.5,39.9 521.5,44.6 524.6,48.6 527.6,52.1 531.1,55.6 534.6,58.6 538.2,61.2 542.2,63.6 546.2,65.6 550.2,67.1 554.3,68.2 558.8,69.1Z"/>
<path fill="#9E8673" fill-rule="evenodd" d="M125.5,652.5 134.3,652.5 134.3,646 134.8,645.5 134.8,637.9 135.3,637.4 135.3,630.9 135.8,630.4 135.8,623.8 136.3,623.3 136.3,617.8 136.8,617.3 136.8,611.7 137.3,611.2 137.3,606.2 137.8,605.7 137.8,600.6 138.3,600.1 138.3,595.6 138.8,595.1 138.8,591.1 139.3,590.6 139.3,586.5 139.8,586 139.8,582 140.3,581.5 140.3,578 140.8,577.5 140.8,573.9 141.3,573.4 141.3,570.4 141.8,569.9 141.8,566.4 142.3,565.9 142.3,562.9 142.8,562.4 142.8,559.8 143.3,559.3 143.3,556.3 143.8,555.8 143.8,553.3 144.3,552.8 144.3,550.3 144.8,549.8 144.8,547.2 145.3,546.7 145.3,544.2 145.8,543.7 145.8,541.7 146.3,541.2 146.3,538.7 146.8,538.2 146.8,536.2 147.3,535.6 147.3,533.6 147.8,533.1 147.8,531.1 148.3,530.6 148.3,528.6 148.8,528.1 148.8,526.6 149.3,526.1 149.3,524.1 149.8,523.6 149.8,522 150.3,521.5 150.3,520 150.8,519.5 150.8,517.5 151.3,517 151.2,515.5 151.8,515 151.7,513.5 152.2,513 152.2,511.5 152.7,511 152.7,510 153.2,509.4 153.2,507.9 153.7,507.4 153.7,505.9 154.2,505.4 154.2,504.4 154.7,503.9 154.7,502.4 155.2,501.9 155.2,500.9 155.7,500.4 155.7,499.4 156.2,498.9 156.2,497.4 156.7,496.9 156.7,495.8 157.2,495.3 157.2,494.3 157.7,493.8 157.7,492.8 158.2,492.3 158.2,491.3 158.7,490.8 158.7,489.8 159.2,489.3 159.2,488.3 159.7,487.8 159.7,487.3 160.2,486.8 160.2,485.8 160.7,485.3 160.7,483.9 155.7,485.6 151.2,487.6 146.6,489.9 142.1,492.7 137.6,496 133.5,499.3 129.5,503.1 125.5,507.4 125.5,652.5ZM252.6,652.5 392.4,652.5 390.8,635.4 389.8,627.9 388.8,620.3 387.6,613.2 386.3,606.7 384.9,600.6 383.4,594.6 381.6,588.9 380,584 378.1,579.3 375.9,574.4 373.6,569.9 371.2,565.9 368.6,561.9 366,558.7 362.5,554.7 359,551.5 355,548.4 350.9,545.9 346.9,543.9 342.4,542.2 337.9,541.1 333.3,540.5 328.8,540.4 323.8,540.8 319.2,541.7 314.7,543.1 309.7,545.1 305.1,547.5 300.6,550.4 296.6,553.5 292.6,557.2 289,560.8 285.5,564.9 282,569.5 278.5,574.8 275.5,579.9 272.4,585.6 269.6,591.6 266.9,598.1 264.4,604.9 262.1,611.7 260,618.8 257.8,627 256,634.9 254.2,643.5 252.6,652.5ZM546.2,652 546.2,652.5 711.4,652.5 710.5,633.9 709.4,617.3 708,602.2 706.3,588 704.4,575.5 702,563.4 699.2,552 696.1,541.7 694.2,536.3 692.3,531.6 690.4,527.1 688.2,522.5 686.1,518.4 683.6,514 681.1,509.9 678.7,506.4 676,502.8 673.5,499.7 670.5,496.3 667.5,493.2 664.5,490.4 660.9,487.5 657.9,485.2 654.4,482.8 651.4,480.9 648.4,479.3 642.3,476.5 639.3,475.4 635.8,474.2 632.8,473.4 629.2,472.6 625.7,472 622.7,471.7 619.7,471.5 616.2,471.4 612.6,471.5 609.6,471.7 606.1,472.2 603.1,472.8 600.1,473.5 596.5,474.5 593.5,475.6 590.5,476.9 585,479.6 581.9,481.4 579.4,483.1 574.4,487.1 571.9,489.3 569.4,491.9 567.1,494.3 564.8,497.1 560.8,502.8 557.5,508.4 554.8,514 552.3,520 550.3,526.1 548.5,532.6 547,539.7 545.7,547.2 544.8,555.3 544.1,563.4 543.7,572.4 543.5,582 543.6,592.1 543.8,603.2 544.3,615.8 546.2,652ZM704.4,184.5 710.3,184.8 715.8,184.6 721.8,183.8 727.4,182.6 727.9,181.9 727.9,180.9 728.4,180.4 728.4,179.4 728.9,178.9 728.9,178.4 729.4,177.9 729.4,176.9 729.9,176.4 729.9,175.4 730.4,174.9 730.4,173.9 730.9,173.4 730.9,172.4 731.4,171.9 731.4,170.9 731.9,170.4 732,169.3 732.5,168.8 732.5,167.3 733,166.8 733,165.8 733.5,165.3 733.5,164.3 734,163.8 734,162.3 734.5,161.8 734.5,160.8 735,160.3 735,158.8 735.5,158.3 735.5,156.8 736,156.2 736,155.2 736.5,154.7 736.5,153.2 737,152.7 737,151.2 737.5,150.7 737.5,149.2 738,148.7 738,146.7 738.6,146.2 738.6,144.7 739.1,144.2 739.1,142.6 739.6,142.1 739.6,140.1 740.1,139.6 740.1,138.1 740.6,137.6 740.6,135.6 741.1,135.1 741.1,133.1 741.6,132.6 741.6,130.6 742.1,130 742.1,128 742.6,127.5 742.6,125 743.1,124.5 743.1,122.5 743.6,122 743.6,119.5 744.1,119 744.1,116.4 744.6,115.9 744.7,113.4 745.2,112.9 745.2,110.4 745.7,109.9 745.7,106.9 746.2,106.4 746.2,103.8 746.7,103.3 746.7,100.3 747.2,99.8 747.2,96.3 747.7,95.8 747.7,92.8 748.2,92.3 748.2,88.7 748.7,88.2 748.7,84.7 749.2,84.2 749.2,80.2 749.7,79.7 749.7,75.6 750.2,75.1 750.2,71.1 750.7,70.6 750.7,66.1 751.2,65.6 751.2,60.5 751.7,60 751.8,55 752.3,54.5 752.3,48.9 752.8,48.4 752.8,42.9 753.3,42.4 753.3,35.8 753.8,35.3 753.8,28.8 754.3,28.3 754.3,20.7 754.8,20.2 754.8,13.7 642.6,13.7 641.4,40.9 640.8,60.5 640.8,77.1 641.3,91.3 641.7,97.8 642.3,104.4 643.1,110.4 644,115.9 645.1,121.5 646.4,126.9 647.8,132.1 649.4,136.7 651.3,141.6 653.4,146.3 655.9,151 658.4,155.1 661.5,159.4 664.5,163.1 667.5,166.4 671,169.7 674.5,172.5 678.6,175.3 682.6,177.7 686.6,179.6 690.6,181.3 695.2,182.7 699.7,183.8 704.4,184.5ZM125.5,164.3 125.5,164.7 130,160.1 134.5,154.8 139.1,148.6 143.6,141.3 147.6,133.8 151.2,126.2 154.7,117.3 157.7,108.4 160.3,99.3 162.8,89.2 165,78.7 166.9,67.1 168.6,55 170.1,42.4 171.3,28.8 172.4,13.7 125.5,13.7 125.5,164.3ZM427.1,127.5 430.5,127.5 433.5,127.3 437,126.7 440,126 443,125 446.1,123.8 449.1,122.4 452.1,120.6 455.1,118.5 457.6,116.5 460.2,114.2 462.7,111.6 465.2,108.7 467.3,105.9 469.7,102.3 471.8,98.8 473.7,95.1 475.5,91.3 477.2,87.2 478.7,83.2 480.2,78.7 481.5,74.1 483.8,64.6 485.8,53.9 487.5,41.9 488.9,28.8 490.1,13.7 348.8,13.7 351.3,26.8 354.1,38.9 357.1,49.9 360.5,60.5 364.4,70.6 366.5,75.7 368.6,79.9 370.7,84.2 373.1,88.4 377.6,95.6 380.1,99.1 383.2,103 385.7,105.9 388.7,109.1 391.7,112 394.7,114.6 397.7,116.9 400.8,118.9 403.8,120.7 407.3,122.6 410.3,123.9 413.9,125.2 417.4,126.2 420.4,126.8 423.9,127.3 427.1,127.5Z"/>
<path fill="#6B7494" fill-rule="evenodd" d="M125.5,652.5 134.3,652.5 134.3,646 134.8,645.5 134.8,637.9 135.3,637.4 135.3,630.9 135.8,630.4 135.8,623.8 136.3,623.3 136.3,617.8 136.8,617.3 136.7,611.7 137.3,611.2 137.2,606.2 137.7,605.7 137.7,600.6 138.2,600.1 138.2,595.6 138.7,595.1 138.7,591.1 139.2,590.6 139.2,586.5 139.7,586 139.7,582 140.2,581.5 140.2,578 140.7,577.5 140.7,573.9 141.2,573.4 141.2,570.4 141.7,569.9 141.7,566.4 142.2,565.9 142.2,562.9 142.7,562.4 142.7,559.8 143.2,559.3 143.2,556.3 143.7,555.8 143.7,553.3 144.2,552.8 144.2,550.3 144.7,549.8 144.7,547.2 145.2,546.7 145.2,544.2 145.7,543.7 145.7,541.7 146.2,541.2 146.2,538.7 146.7,538.2 146.6,536.2 147.2,535.6 147.1,533.6 147.6,533.1 147.6,531.1 148.1,530.6 148.1,529.9 145.1,531.4 142.1,533.1 139.1,534.9 136.1,537 133,539.4 130.5,541.5 125.5,546.3 125.5,652.5ZM255.7,652.5 389,652.5 387.3,642.5 385.3,632.9 383.2,624.4 380.6,616.3 377.8,608.7 374.6,601.7 371.1,595.4 367.6,590.1 363.5,585 361.5,582.8 359,580.4 356.5,578.2 354,576.3 351.4,574.6 348.9,573.1 346.4,571.8 343.9,570.7 341.4,569.7 338.4,568.8 335.8,568.2 332.8,567.7 329.8,567.4 326.8,567.3 323.8,567.4 320.8,567.7 317.7,568.2 315.2,568.7 312.2,569.6 309.2,570.7 306.2,572 303.6,573.3 301.1,574.7 298.1,576.6 293.1,580.4 290.6,582.6 288,585 283.5,590 279,595.9 275,602 270.9,609.2 267.4,616.5 264,624.8 261,633.4 258.3,642.5 255.7,652.5ZM549.2,652.5 708.7,652.5 707.7,642.5 706.6,632.9 705.3,623.8 703.9,615.3 702.3,607.2 700.5,599.6 698.7,592.6 696.5,585.5 694.2,578.7 691.6,572.4 688.9,566.4 686.1,560.9 683.1,555.7 679.6,550.3 676,545.6 672.5,541.5 667.5,536.3 662.5,531.9 656.9,528 651.4,524.7 648.4,523.2 645.3,521.9 639.3,519.7 633.3,518.3 627.2,517.4 621.2,517.2 615.2,517.6 609.1,518.6 606.1,519.4 603.1,520.3 600.1,521.4 597,522.7 594,524.3 591.5,525.7 586.5,529 584,531 581.4,533.2 577.4,537.1 573.4,541.8 569.9,546.7 566.4,552.3 563.5,557.8 560.8,564.1 558.5,570.4 556.4,577.5 554.7,584.5 553.2,592.1 552,600.1 550.9,609.2 550.2,618.8 549.6,628.9 549.3,639.9 549.2,652.5ZM712.4,141.6 716.8,141.8 720.8,141.6 724.9,141.1 728.9,140.3 734.4,138.8 740,136.7 740.5,136.5 740.5,135.6 741,135.1 741,133.1 741.5,132.6 741.5,130.6 742,130 742,128 742.5,127.5 742.5,125 743,124.5 743,122.5 743.5,122 743.5,119.5 744,119 744.1,116.4 744.6,115.9 744.6,113.4 745.1,112.9 745.1,110.4 745.6,109.9 745.6,106.9 746.1,106.4 746.1,103.8 746.6,103.3 746.6,100.3 747.1,99.8 747.1,96.3 747.6,95.8 747.6,92.8 748.1,92.3 748.1,88.7 748.7,88.2 748.7,84.7 749.2,84.2 749.2,80.2 749.7,79.7 749.7,75.6 750.2,75.1 750.2,71.1 750.7,70.6 750.7,66.1 751.2,65.6 751.2,60.5 751.7,60 751.7,55 752.2,54.5 752.2,48.9 752.7,48.4 752.7,42.9 753.2,42.4 753.2,35.8 753.8,35.3 753.8,28.8 754.3,28.3 754.3,20.7 754.8,20.2 754.8,13.7 645.6,13.7 646,29.8 646.7,43.9 647.9,56.5 649.6,68.1 650.6,73.6 651.8,78.7 653,83.7 654.4,88.3 655.9,92.8 657.7,97.3 659.4,101.4 661.5,105.5 663.6,109.4 666,113.1 668.5,116.7 671,119.8 673.5,122.7 676.5,125.7 679.6,128.3 683.1,131 686.6,133.4 690.1,135.4 693.7,137 697.2,138.4 700.7,139.6 704.7,140.6 708.8,141.3 712.4,141.6ZM125.5,125 125.5,125.3 129.5,121.6 133,117.9 137.1,113.1 141.3,107.4 144.8,101.8 148.1,95.8 151.2,89.6 154.2,82.6 156.7,75.9 159.2,68.2 161.4,60.5 163.5,52 165.2,43.4 167,33.8 168.4,24.2 169.7,13.7 125.5,13.7 125.5,125ZM419.2,100.3 422.4,100.6 425.4,100.6 428.4,100.5 431.5,100.1 434.5,99.6 437.5,98.8 440.5,97.8 443.5,96.5 446.6,95 449.1,93.6 452.1,91.5 454.6,89.6 457.1,87.4 459.6,84.9 462.2,82.2 464.2,79.7 466.2,76.9 468.2,73.9 471.8,67.6 473.6,64 475.2,60.2 478.2,52.5 480.8,44 483,34.8 485,24.7 486.7,13.7 351.9,13.7 354.3,23.2 357,32.2 360,40.9 363,48.4 366.5,56 370.1,62.5 374.1,69 378.1,74.6 382.7,80 387.2,84.5 392.2,88.8 397.2,92.3 402.3,95.2 405.3,96.6 407.8,97.6 410.8,98.6 413.3,99.3 416.4,99.9 419.2,100.3Z"/>
<path fill="#4062A5" fill-rule="evenodd" d="M125.5,652.5 134.2,652.5 134.2,646 134.7,645.5 134.7,637.9 135.2,637.4 135.2,630.9 135.7,630.4 135.7,623.8 136.2,623.3 136.2,617.8 136.7,617.3 136.7,611.7 137.2,611.2 137.2,606.2 137.7,605.7 137.7,600.6 138.2,600.1 138.2,595.6 138.7,595.1 138.7,591.1 139.2,590.6 139.2,586.5 139.7,586 139.7,582 140.2,581.5 140.2,578 140.7,577.5 140.7,573.9 141.2,573.4 141.1,570.4 141.6,569.9 141.6,566.4 142.1,565.9 142.1,562.9 142.6,562.4 142.6,559.8 143.1,559.3 143.1,556.3 143.6,555.8 143.6,555.2 138.6,558.1 134,561.2 129.5,564.8 125.5,568.6 125.5,652.5ZM258.8,652.5 385.6,652.5 383.7,644.6 381.4,636.9 378.9,629.9 376.2,623.3 373.3,617.3 370.1,611.8 366.5,606.6 363,602.3 359,598.1 354.5,594.2 349.9,591.1 345.4,588.6 340.4,586.5 335.3,585 330.3,584.2 325.3,583.9 322.8,584 319.7,584.2 314.7,585.1 309.7,586.6 304.6,588.6 299.6,591.2 295.1,594.2 290.6,597.8 286,602 282,606.5 278,611.6 273.9,617.7 270.4,623.8 267.2,630.4 264.1,637.4 261.4,644.7 258.8,652.5ZM552.1,652.5 706,652.5 703.9,639.4 701.5,627.3 698.7,616.4 695.5,606.2 693.7,601.2 691.8,596.6 689.8,592.1 687.6,587.6 685.4,583.5 683.1,579.6 680.6,575.8 678.2,572.4 675.5,569.1 672.5,565.6 669.5,562.5 666.5,559.7 663.5,557.1 659.9,554.5 656.9,552.5 653.4,550.4 649.9,548.6 646.4,547.1 642.8,545.8 638.8,544.6 635.3,543.8 631.8,543.2 628.2,542.9 624.2,542.8 620.2,542.9 616.7,543.3 613.1,543.9 609.6,544.7 606.1,545.8 602.6,547.1 599,548.7 595.5,550.5 592,552.7 589,554.9 586,557.4 583.2,559.8 580.4,562.7 577.9,565.6 575.4,568.8 572.8,572.4 570.6,576 568.6,579.5 566.6,583.5 564.8,587.4 563.1,591.6 561.5,596.1 560.1,600.6 558.7,605.7 556.4,615.8 554.6,626.8 553.1,638.9 552.1,652.5ZM714.1,117.5 717.8,117.6 721.8,117.6 725.9,117.2 729.9,116.5 733.9,115.5 737.4,114.4 741,113.1 745,111.3 745,110.4 745.5,109.9 745.5,106.9 746,106.4 746,103.8 746.5,103.3 746.5,100.3 747,99.8 747.1,96.3 747.6,95.8 747.6,92.8 748.1,92.3 748.1,88.7 748.6,88.2 748.6,84.7 749.1,84.2 749.1,80.2 749.6,79.7 749.6,75.6 750.1,75.1 750.1,71.1 750.7,70.6 750.7,66.1 751.2,65.6 751.2,60.5 751.7,60 751.7,55 752.2,54.5 752.2,48.9 752.7,48.4 752.7,42.9 753.2,42.4 753.2,35.8 753.7,35.3 753.7,28.8 754.2,28.3 754.2,20.7 754.8,20.2 754.8,13.7 648.6,13.7 649.6,25.8 651,36.8 652.8,46.9 655,56.5 657.5,65.1 660.5,73.1 662.1,76.6 664,80.5 666,84.2 668,87.6 670,90.6 672.4,93.8 674.5,96.4 677.1,99.2 679.6,101.7 682.6,104.3 685.1,106.3 688.1,108.4 691.1,110.3 694.2,111.9 697.2,113.3 700.7,114.6 703.7,115.6 707.2,116.4 710.8,117.1 714.1,117.5ZM125.5,102.3 125.5,102.8 128.5,100.2 131.5,97.3 135.6,92.9 139.3,88.2 142.6,83.6 145.6,78.9 148.6,73.5 151.3,68.1 153.8,62.5 156.2,56.4 158.4,49.9 160.5,43.4 162.4,36.3 164,29.3 165.6,21.7 167,13.7 125.5,13.7 125.5,102.3ZM418.5,83.7 423.9,83.9 426.4,83.8 429.5,83.4 432.5,82.9 435,82.3 438,81.3 440.5,80.4 445.6,78 448.1,76.5 450.6,74.8 455.1,71.2 457.6,68.8 459.6,66.8 463.7,61.9 467.2,56.9 470.7,50.9 473.7,44.7 476.5,37.8 479.1,30.3 481.3,22.5 483.3,13.7 354.9,13.7 357.5,21.5 360,28.3 363,35.4 366,41.6 369.6,47.9 373.1,53.5 376.6,58.3 380.6,63.1 384.7,67.2 389.2,71.2 393.7,74.5 398.3,77.3 403.3,79.8 408.3,81.6 413.3,82.9 418.5,83.7Z"/>
<path fill="#25538B" fill-rule="evenodd" d="M125.5,652.5 134.2,652.5 134.2,646 134.7,645.5 134.7,637.9 135.2,637.4 135.2,630.9 135.7,630.4 135.7,623.8 136.2,623.3 136.2,617.8 136.7,617.3 136.7,611.7 137.2,611.2 137.2,606.2 137.7,605.7 137.7,600.6 138.2,600.1 138.2,595.6 138.7,595.1 138.6,591.1 139.1,590.6 139.1,586.5 139.6,586 139.6,582 140.1,581.5 140.1,578 140.6,577.5 140.6,573.9 141.1,573.4 141.1,572.6 137.1,574.9 133,577.7 129,580.9 125.5,584.2 125.5,652.5ZM262,652.5 382.2,652.5 380,646 377.6,639.7 375.1,634 372.2,628.4 369.1,623.2 366,618.9 362.5,614.6 359,610.9 355.5,607.7 351.4,604.7 347.4,602.2 342.9,600 338.4,598.3 333.8,597.1 329.3,596.4 324.3,596.1 319.2,596.4 314.7,597.1 310.2,598.2 305.7,599.9 301.1,602 296.6,604.6 292.1,607.9 288,611.2 284,615.2 280.5,619.2 277,623.8 273.4,629 270.4,634.2 267.4,640 264.7,646 262,652.5ZM555,652.5 703.3,652.5 701.1,642 698.4,631.9 695.6,622.8 692.1,613.9 688.4,605.7 686.3,601.7 684.2,598.1 680,591.6 677.6,588.3 675,585.2 672.5,582.3 669.5,579.2 667,576.9 664,574.4 660.9,572.1 657.9,570.1 654.9,568.2 651.9,566.6 648.9,565.2 645.9,564 642.8,563 639.3,562 635.8,561.2 632.8,560.8 629.2,560.4 625.7,560.3 622.2,560.4 618.7,560.8 615.7,561.2 612.1,562 608.6,563 605.6,564.1 602.6,565.3 599.6,566.8 596.5,568.5 593.5,570.4 590.5,572.6 588,574.7 585.5,576.9 582.9,579.5 580.4,582.2 577.9,585.3 575.6,588.6 573.6,591.6 569.9,598.1 568.1,601.7 566.3,605.5 563.3,613.5 560.8,621.8 558.4,631.4 556.6,641.5 555,652.5ZM716.7,100.8 720.3,100.9 724.4,100.8 728.4,100.3 732.4,99.6 736.4,98.5 740,97.3 744,95.7 747.5,93.9 747.5,92.8 748,92.3 748,88.7 748.5,88.2 748.5,84.7 749.1,84.2 749.1,80.2 749.6,79.7 749.6,75.6 750.1,75.1 750.1,71.1 750.6,70.6 750.6,66.1 751.1,65.6 751.1,60.5 751.6,60 751.7,55 752.2,54.5 752.2,48.9 752.7,48.4 752.7,42.9 753.2,42.4 753.2,35.8 753.7,35.3 753.7,28.8 754.2,28.3 754.2,20.7 754.7,20.2 754.7,13.7 651.6,13.7 653.1,23.7 654.9,32.8 657,41.4 659.4,49.1 662.2,56.5 665.5,63.4 669,69.7 673,75.7 675,78.2 677.6,81.2 682.1,85.7 684.6,87.9 687.1,89.8 689.6,91.6 692.7,93.5 695.2,94.8 698.2,96.3 701.2,97.5 704.2,98.5 707.2,99.4 710.3,100 713.3,100.5 716.7,100.8ZM125.5,86.7 125.5,87.1 128.5,84.5 131,82.2 134.5,78.6 137.9,74.6 140.7,71.1 143.6,66.9 146.1,62.8 148.8,58 151.4,53 153.7,47.9 155.7,43 157.7,37.5 159.6,31.8 161.2,26.1 162.8,20.2 164.3,13.7 125.5,13.7 125.5,86.7ZM419.8,71.6 424.9,71.5 430,70.9 435,69.7 439.5,68.1 444,66 448.6,63.3 452.6,60.3 456.6,56.7 460.2,53 463.8,48.4 467.2,43.5 470.2,38.3 472.9,32.8 475.5,26.8 477.8,20.6 479.9,13.7 358.1,13.7 360.7,20.2 363.5,26.5 366.5,32.4 369.6,37.5 373.1,42.8 376.6,47.5 380.1,51.6 384.2,55.6 388.2,59.1 392.2,62.1 396.7,64.9 401.3,67.2 405.8,68.9 410.3,70.3 414.9,71.1 419.8,71.6Z"/>
<path fill="#FFFFFF" fill-rule="evenodd" d="M125.5,652.5 134.2,652.5 134.2,646 134.7,645.5 134.7,637.9 135.2,637.4 135.2,630.9 135.7,630.4 135.7,623.8 136.2,623.3 136.2,617.8 136.7,617.3 136.7,611.7 137.2,611.2 137.2,606.2 137.7,605.7 137.7,600.6 138.2,600.1 138.1,595.6 138.7,595.1 138.6,591.1 139.1,590.6 139.1,586.5 139.6,586 139.6,582 140.1,581.5 140.1,578 140.6,577.5 140.6,573.6 136.6,576.1 133,578.5 129,581.8 125.5,585 125.5,652.5ZM262.2,652.5 382,652.5 379.8,646 377.4,639.9 375,634.4 372.1,628.9 369.1,623.9 366,619.6 362.5,615.2 359,611.5 355,608 350.9,605 346.9,602.6 342.4,600.4 337.9,598.8 333.3,597.6 328.8,596.9 324.3,596.7 319.7,596.9 314.7,597.7 310.2,598.9 305.7,600.5 301.1,602.6 297.1,604.9 292.6,608.1 288.5,611.4 284.5,615.3 281,619.2 277.5,623.7 273.9,628.8 270.6,634.4 267.7,639.9 264.9,646 262.2,652.5ZM555.2,652.5 703.1,652.5 700.9,642 698.2,631.9 695.2,622.6 691.9,614.2 688.1,606 684.1,598.7 681.8,595.1 679.6,591.8 675,586 672.5,583.2 670,580.6 667.5,578.2 664.5,575.6 661.5,573.3 658.4,571.2 655.4,569.4 652.4,567.8 648.9,566.1 645.9,564.9 642.3,563.7 639.3,562.9 635.8,562.1 632.8,561.7 629.2,561.3 625.7,561.2 622.2,561.3 618.7,561.7 615.2,562.2 612.1,562.9 608.6,563.9 605.6,565 602.6,566.3 599.6,567.7 596.5,569.4 593.5,571.4 590.5,573.6 588,575.6 585.5,577.9 582.9,580.4 580.4,583.2 578.2,586 575.9,589.1 573.9,592.1 571.9,595.4 569.9,599.1 568.1,602.7 566.3,606.6 563.4,614.2 560.8,622.8 558.6,631.9 556.7,642 555.2,652.5ZM714.9,99.8 719.3,100.1 723.9,100 728.4,99.5 732.9,98.6 737.9,97.2 742.5,95.5 747.5,93.1 747.5,92.8 748,92.3 748,88.7 748.5,88.2 748.5,84.7 749.1,84.2 749.1,80.2 749.6,79.7 749.6,75.6 750.1,75.1 750.1,71.1 750.6,70.6 750.6,66.1 751.1,65.6 751.1,60.5 751.6,60 751.7,55 752.2,54.5 752.2,48.9 752.7,48.4 752.7,42.9 753.2,42.4 753.2,35.8 753.7,35.3 753.7,28.8 754.2,28.3 754.2,20.7 754.7,20.2 754.7,13.7 651.7,13.7 653.2,23.2 655,32.3 657.1,40.4 659.4,48 662.3,55.5 665.3,62 668.9,68.6 672.6,74.1 674.9,77.1 677.1,79.7 681.6,84.3 684.1,86.5 686.6,88.5 691.6,92 694.2,93.4 697.2,94.9 702.7,97.2 705.7,98.1 708.8,98.8 711.8,99.4 714.9,99.8ZM125.5,86.2 128.5,83.7 132,80.4 135.1,77.2 138.1,73.7 141.1,69.7 143.6,66.1 146.4,61.5 149,57 151.3,52.5 153.6,47.4 155.7,42.2 157.5,37.3 159.3,31.8 161.1,25.8 162.7,19.6 164.1,13.7 125.5,13.7 125.5,86.2ZM415.5,70.6 420.9,71 425.9,70.8 431,70.1 436,68.7 441,66.8 445.6,64.5 450.1,61.6 454.6,57.9 458.6,54 462.5,49.4 466.2,44.4 469.2,39.4 472.2,33.6 475,27.3 477.5,20.7 479.7,13.7 358.3,13.7 360.7,19.7 363.4,25.8 366,30.9 369.1,36.2 372.1,40.8 375.1,45 378.6,49.3 382.1,53.1 385.7,56.4 389.7,59.7 393.7,62.5 397.7,64.8 401.8,66.8 406.3,68.5 410.8,69.8 415.5,70.6Z"/>
<path fill="none" stroke="#566173" stroke-opacity="0.9" stroke-width="1" d="M246.5,652.5 247.8,622.8 248.3,601.7 248.3,592.1 248.2,583.5 247.9,576 247.4,568.4 246.7,561.3 245.8,554.3 244.7,547.7 243.4,541.7 241.7,535.6 239.9,530.1 238,525.1 235.7,519.9 232.8,514.5 229.7,509.6 226.2,504.9 222.6,500.9 218.6,497 214.6,493.7 210,490.6 205.5,488 200.5,485.7 195.4,483.9 190.4,482.6 185.4,481.8 180.3,481.4 174.8,481.5 169.3,482 163.9,483.1M540.3,652.5 537.7,638.9 534.9,626.8 531.6,615 528.2,604.7 524.6,595.2 520.4,586 516,577.8 513.5,573.7 511,569.9 508.5,566.4 505.4,562.6 502.9,559.7 499.9,556.6 496.9,553.8 493.9,551.2 490.8,549 487.8,547 484.3,544.9 481.3,543.4 477.8,541.9 474.2,540.7 470.7,539.8 467.2,539.1 464.2,538.8 460.7,538.6 457.1,538.8 454.1,539.1 451.1,539.7 448.1,540.5 445.1,541.5 442,542.8 439,544.4 436,546.2 433,548.4 430.5,550.6 427.9,553 425.4,555.7 422.9,558.8 420.9,561.6 418.9,564.7 416.9,568.2 415,571.9 413.3,575.5 410.3,583.3 407.6,592.1 405.2,602.2 403.2,612.7 401.5,624.8 400.1,637.9 399,652.5M763.6,501.5 758.6,506.6 753.5,512.7 749,519.2 745,525.8 741.1,533.1 737.6,540.7 734.4,548.9 731.4,557.8 728.8,566.9 726.3,577 724.1,587.5 722.2,599.1 720.5,611.2 719,623.8 717.8,637.4 716.7,652.5M730.4,181.7 734.9,180 739.5,177.9 744,175.4 748,172.8 752,169.8 756.1,166.4 760.1,162.6 763.6,158.8M177.7,13.7 178.9,37.3 179.6,47.9 180.5,58 181.4,67.6 182.5,76.6 183.8,85.2 185.2,93.3 186.7,100.8 188.4,108.4 190.3,115.4 192.4,122.5 194.6,129 197,135 199.5,140.7 202.1,146.2 205.2,151.7 208.5,157 212,162 215.6,166.5 219.6,170.9 223.6,174.9 227.6,178.3 232.2,181.7 236.7,184.7 241.7,187.4 246.8,189.7 251.8,191.5 256.8,192.9 261.9,194 267.4,194.6 272.4,194.8 277.5,194.6 282.5,194.1 287.5,193.1 292.6,191.7 297.6,189.8 302.1,187.7 306.7,185.1 310.7,182.3 314.7,179.1 318.7,175.4 322.3,171.5 325.6,167.3 328.7,162.8 331.3,158.2 333.8,153.2 336.2,147.7 338,142.6 339.5,137.6 340.9,132.1 342.2,126 343.2,120 344.1,113.4 344.7,106.4 345.2,99.3 345.4,92.3 345.6,84.2 345.4,66.6 344.6,45.4 342.9,13.7M496.7,13.7 498,27.8 499.6,40.9 501.4,52.5 503.6,63 506,72.6 507.5,77.3 509,81.7 510.5,85.7 512.2,89.7 514,93.5 515.8,96.8 517.9,100.3 520,103.6 522.1,106.4 524.6,109.3 527.1,112 529.6,114.3 532.1,116.4 534.6,118.2 537.7,120.1 540.7,121.6 543.7,122.9 546.7,124 549.7,124.8 552.7,125.3 555.8,125.7 559.3,125.8 562.3,125.7 565.8,125.3 568.9,124.7 572.4,123.8 575.4,122.8 578.9,121.3 582.4,119.5 585.5,117.8 588.5,115.8 591.5,113.5 594.5,110.9 597.5,108.1 600.6,104.9 603.1,101.9 605.6,98.7 608.1,95.2 612.6,88.1 615.2,83.5 617.2,79.6 621.2,70.6 624.8,61 628.2,50.4 631.3,39.2 634.1,26.8 636.5,13.7M243.5,652.5 243.3,642.5 243,633.4 242.5,624.8 241.9,616.8 241.1,609.2 240.1,602.2 239,595.6 237.8,589.6 236.3,583.5 234.7,577.9 232.8,572.4 230.8,567.4 228.7,562.7 226.1,558 223.6,553.8 220.6,549.5 217.1,545.2 213.6,541.5 210,538.3 206,535.2 202,532.5 198,530.3 193.4,528.3 188.9,526.8 184.4,525.6 179.3,524.8 174.8,524.5 169.8,524.5 165.2,524.9 160.2,525.9 155.7,527.1 151.1,528.7M537.2,652.5 534.6,642.4 531.9,633.4 528.7,624.3 525.4,616.3 521.8,608.7 517.8,601.7 513.5,595 509,589.1 506.4,586.2 503.9,583.6 498.9,579 493.9,575.2 491.4,573.6 488.3,571.8 485.8,570.6 482.8,569.2 479.8,568.1 476.8,567.2 473.7,566.5 470.7,566 467.7,565.7 464.7,565.6 461.7,565.6 458.6,565.9 455.6,566.4 453.1,567 450.6,567.7 447.6,568.8 444.6,570.1 442,571.4 439.5,572.9 437,574.7 434.5,576.6 432,578.8 429.5,581.3 427.4,583.5 423.4,588.5 419.8,594.1 416.4,600.4 413.2,607.7 410.4,615.3 407.9,623.8 405.8,632.6 404,642 402.4,652.5M763.6,540.9 759.1,545.1 755.1,549.4 751,554.4 747.5,559.3 744,564.9 740.7,570.9 737.5,577.5 734.8,584 732.2,591.1 729.7,598.6 727.5,606.7 725.5,614.8 723.8,623.3 722.1,632.4 720.7,642 719.4,652.5M743.5,135.1 749,131.9 754,128.4 759.1,124.3 763.6,119.9M180.4,13.7 182.1,30.3 184.2,44.9 185.4,51.7 186.7,58.5 188.2,65.1 189.7,71.1 191.4,77 193.2,82.7 195.2,88.2 197.2,93.3 199.5,98.3 202,103.4 204.5,108 207,112.1 209.5,115.9 212.6,120 215.6,123.6 219.1,127.4 222.6,130.8 226.1,133.8 229.7,136.5 233.7,139.2 237.7,141.5 241.7,143.5 245.8,145.1 249.8,146.5 253.8,147.5 258.3,148.4 262.9,148.9 266.9,149 271.4,148.9 275.5,148.4 280,147.6 284,146.5 288,145.2 292.1,143.5 296.1,141.4 299.6,139.3 303.1,136.8 306.7,133.9 309.7,131.1 312.7,128 315.7,124.4 318.6,120.5 321.3,116.4 323.5,112.4 325.6,108.4 327.6,103.8 329.4,99.3 331.1,94.3 332.6,89.2 333.8,84.2 335,78.7 336.2,72.6 337.1,66.6 337.8,60.5 339,46.9 339.7,31.3 339.9,13.7M500.1,13.7 501.8,23.7 503.8,33.3 505.9,41.8 508.5,49.9 511.3,57.5 514.5,64.5 518,70.8 521.5,76.1 525.6,81.2 527.6,83.4 530.1,85.8 532.6,88 535.1,89.9 537.7,91.6 540.2,93.1 542.7,94.4 545.2,95.5 547.7,96.5 550.7,97.4 553.3,98 556.3,98.5 559.3,98.8 562.3,98.9 565.3,98.8 568.3,98.5 571.4,98 573.9,97.5 576.9,96.6 579.9,95.5 582.9,94.2 585.5,92.9 588,91.5 591,89.6 596,85.8 598.5,83.6 601.1,81.2 605.6,76.2 610.1,70.3 614.1,64.2 618.2,57 621.7,49.7 625.1,41.4 628.1,32.8 630.8,23.7 633.4,13.7M240.5,652.5 239.9,645 239.1,637.4 238.2,630.5 237.2,624.2 236,617.8 234.7,612.1 233.2,606.4 231.6,601.1 229.7,595.8 227.6,591 225.6,586.5 223.1,582 220.6,577.9 218.1,574.2 215.1,570.4 212,567 208.5,563.6 205,560.7 201.5,558.1 197.5,555.7 193.4,553.6 189.4,552 185.4,550.6 180.8,549.6 176.8,548.9 172.3,548.6 167.8,548.6 163.2,549 158.7,549.8 154.7,550.8 150.7,552.1 146.1,554M534.2,652.5 531.6,644.7 528.6,636.7 525.6,629.7 522.1,622.7 518.5,616.6 514.5,610.6 510.5,605.4 506.4,601 501.9,596.7 497.4,593.1 492.4,589.8 487.3,587.1 482.3,585.1 479.8,584.3 476.8,583.5 471.7,582.6 468.7,582.4 466.2,582.3 463.2,582.4 460.7,582.6 455.6,583.5 450.6,585 445.6,587.2 441,589.7 436.5,592.9 432,596.9 427.9,601.1 424.4,605.6 420.9,610.9 417.9,616.3 414.9,622.7 412.2,629.4 409.8,636.5 407.7,644 405.8,652.5M763.6,563.4 759.6,566.9 756.1,570.5 752.5,574.5 749,579 746,583.3 743,588.2 740,593.7 737.4,598.8 734.9,604.6 732.6,610.7 730.4,617.1 728.5,623.3 726.6,630.4 725,637.4 723.4,645 722.1,652.5M748,109.6 752,107.2 756.1,104.3 760.1,100.9 763.6,97.6M183.1,13.7 185.2,26.8 187.6,38.9 190.4,49.8 193.6,60 195.4,65 197.3,69.6 199.3,74.1 201.5,78.6 203.7,82.7 206,86.6 208.5,90.4 210.9,93.8 213.6,97.1 216.6,100.6 219.6,103.7 222.6,106.5 225.6,109.1 229.2,111.7 232.2,113.7 235.7,115.8 239.2,117.6 242.7,119.1 246.3,120.4 250.3,121.6 253.8,122.4 257.3,123 260.9,123.3 264.9,123.4 268.9,123.3 272.4,122.9 276,122.3 279.5,121.5 283,120.4 286.5,119.1 290.1,117.5 293.6,115.7 297.1,113.5 300.1,111.3 303.1,108.8 305.9,106.4 308.7,103.5 311.2,100.6 313.7,97.4 316.3,93.8 318.5,90.2 320.5,86.7 322.5,82.7 324.3,78.8 326,74.6 327.6,70.1 329,65.6 330.4,60.5 332.7,50.4 334.5,39.4 336,27.3 337,13.7M503.5,13.7 505.4,21.6 507.7,29.3 510.2,36.3 512.9,42.9 515.8,48.9 519,54.4 522.6,59.6 526.1,63.9 530.1,68.1 534.6,72 539.2,75.1 543.7,77.6 548.7,79.7 553.8,81.2 558.8,82 563.8,82.3 566.3,82.2 569.4,82 574.4,81.1 579.4,79.6 584.5,77.6 589.5,75 594,72 598.5,68.4 603.1,64.2 607.1,59.7 611.1,54.6 615.2,48.5 618.7,42.4 621.9,35.8 625,28.8 627.7,21.5 630.3,13.7M237.5,652.5 236.6,646 235.5,639.9 234.3,633.9 233,628.4 231.6,623.3 230.1,618.3 228.3,613.2 226.4,608.7 224.3,604.2 222.2,600.1 220.1,596.5 217.5,592.6 214.9,589.1 212,585.6 209,582.4 206,579.6 202.5,576.7 199,574.3 195.4,572.2 191.9,570.4 187.9,568.7 183.9,567.4 179.8,566.4 175.8,565.7 171.8,565.3 167.8,565.3 163.7,565.5 159.7,566 155.7,566.9 151.7,568 147.6,569.5 143.6,571.3M531,652.5 528.4,646 525.6,639.7 522.6,633.8 519.3,628.4 516,623.4 512.5,618.7 508.5,614.1 504.4,610.1 500.4,606.7 495.9,603.5 491.4,600.8 486.3,598.4 481.8,596.8 476.8,595.5 472.2,594.8 467.2,594.6 462.2,594.9 457.6,595.6 453.1,596.8 448.6,598.5 444,600.8 440,603.3 436,606.3 432,610 428.4,613.8 424.9,618.2 421.9,622.7 418.9,627.9 416.2,633.4 413.6,639.4 411.3,645.6 409.2,652.5M763.6,579.1 760.1,582.1 757.1,585 754,588.2 750.8,592.1 748,595.7 745,600.1 742.5,604.2 740,608.8 737.7,613.2 735.4,618.3 733.4,623.2 731.4,628.7 729.5,634.4 727.9,640.1 726.3,646 724.8,652.5M750.5,92.2 754,89.9 757.1,87.7 760.6,84.8 763.6,82M185.8,13.7 188,24.2 190.7,34.3 193.5,43.4 197,52.3 200.7,60.5 202.8,64.5 204.9,68.1 209.1,74.6 211.5,77.9 214.1,81 216.6,83.9 219.6,87 222.1,89.3 225.1,91.8 228.2,94.1 231.2,96.1 234.2,98 237.2,99.6 240.2,101 243.2,102.2 246.3,103.2 249.8,104.2 253.3,105 256.3,105.4 259.9,105.8 263.4,105.9 266.9,105.8 270.4,105.4 273.4,105 277,104.2 280.5,103.2 283.5,102.1 286.5,100.9 289.5,99.4 292.6,97.7 295.6,95.8 298.6,93.6 301.1,91.5 303.6,89.3 306.2,86.7 308.7,84 311.2,80.9 313.5,77.6 315.5,74.6 319.2,68.1 321,64.5 322.8,60.7 325.8,52.7 328.3,44.4 330.7,34.8 332.5,24.7 334.1,13.7M506.9,13.7 509.1,20.2 511.5,26.5 514,32.2 516.9,37.8 520,43 523.1,47.3 526.6,51.6 530.1,55.3 533.6,58.5 537.7,61.5 541.7,64 546.2,66.2 550.7,67.9 555.3,69.1 559.8,69.8 564.8,70.1 569.9,69.8 574.4,69.1 578.9,68 583.4,66.3 588,64.2 592.5,61.6 597,58.3 601.1,55 605.1,51 608.6,47 612.1,42.4 615.7,37.2 618.7,32 621.7,26.2 624.4,20.2 627.1,13.7"/>
<path fill="none" stroke="#5a6478" stroke-opacity="0.75" stroke-width="0.8" d="M252.6,652.5 255,639.4 257.8,627 260.9,615.8 264.3,605.2 267.9,595.6 271.9,586.6 273.9,582.7 276.5,578.1 281,571 283.5,567.5 286,564.3 288.5,561.3 291.6,558.1 294.6,555.3 297.6,552.7 300.6,550.4 303.6,548.4 306.7,546.7 310.2,544.9 313.7,543.4 316.7,542.4 320.2,541.5 323.3,540.9 326.8,540.5 329.8,540.4 333.3,540.5 336.4,540.9 339.4,541.4 342.4,542.2 345.4,543.3 348.4,544.6 351.4,546.1 354.5,548 357,549.8 359.5,551.9 362,554.2 364.5,556.9 367,559.8 369.1,562.6 371.2,565.9 373.3,569.4 375.1,572.7 376.9,576.5 378.6,580.5 380.1,584.5 381.6,588.9 383.1,593.6 385.5,603.2 387.7,613.7 389.5,625.3 391.1,638.4 392.4,652.5M546.2,652.5 544.5,620.8 543.7,599.6 543.5,582 543.7,573.9 543.9,566.9 544.4,559.8 545,552.8 545.9,546.2 546.9,540.2 548.2,534.1 549.6,528.6 551.1,523.6 552.9,518.5 555.3,513 557.8,508 560.4,503.4 563.5,498.9 566.8,494.7 570.4,490.8 574.4,487.1 578.4,483.9 582.4,481.1 587,478.5 591.5,476.4 596.5,474.5 601.6,473.1 606.6,472.1 611.6,471.6 616.7,471.4 621.7,471.6 627.2,472.2 632.3,473.3 637.3,474.7 642.3,476.5 647.4,478.8 652.4,481.5 656.9,484.5 661.5,487.9 665.5,491.3 669.5,495.3 673.5,499.7 677.1,504.2 680.6,509.2 683.9,514.5 687,520 689.6,525.5 692.1,531.2 694.5,537.2 696.7,543.7 698.8,550.8 700.7,557.8 702.4,565.4 703.9,572.9 705.3,581 706.6,589.6 707.7,598.6 708.6,608.2 709.5,618.3 710.2,628.9 711.4,652.5M125.5,507.4 129,503.6 133,499.8 137.1,496.4 141.1,493.4 145.1,490.8 149.6,488.3 154.2,486.2 158.7,484.5M725.2,183.1 719.8,184.2 714.3,184.7 708.8,184.8 703.7,184.4 698.7,183.6 693.7,182.3 688.6,180.5 683.6,178.2 679.1,175.6 674.5,172.5 670.5,169.2 666.5,165.3 662.9,161.3 659.4,156.6 656.3,151.7 653.4,146.3 651.1,141.1 649.2,136.1 647.4,130.6 645.7,124.5 644.4,118.5 643.3,111.9 642.4,104.9 641.7,97.8 641.2,90.2 640.9,82.7 640.8,74.1 640.8,64.5 641.3,43.4 642.6,13.7M172.4,13.7 171.3,28.8 170.1,42.4 168.6,55 166.9,67.1 165,78.7 162.8,89.2 160.3,99.3 157.7,108.4 154.7,117.3 151.5,125.5 148,133.1 144.1,140.4 140.1,147 135.6,153.5 130.5,159.6 125.5,164.7M490.1,13.7 489,28.3 487.6,41.4 485.9,53.5 483.9,64 481.5,74.1 478.8,82.9 475.8,90.7 474.1,94.3 472.2,98 470.2,101.5 468.2,104.6 466.2,107.4 463.7,110.5 461.2,113.2 458.6,115.6 456.1,117.8 453.1,120 450.1,121.8 447.1,123.4 444,124.7 441,125.7 438,126.5 435,127.1 432,127.4 428.4,127.6 424.9,127.4 421.9,127.1 418.4,126.4 414.9,125.5 411.3,124.3 407.8,122.8 404.8,121.3 401.3,119.2 398.3,117.2 395.2,115 392.2,112.4 389.2,109.6 386.2,106.5 383.7,103.6 380.6,99.8 378.1,96.3 375.6,92.5 373.1,88.4 368.7,80.2 364.5,71 360.9,61.5 357.5,51.2 354.2,39.4 351.4,27.3 348.8,13.7"/>
<path fill="none" stroke="#b09a78" stroke-opacity="0.75" stroke-width="0.8" d="M255.7,652.5 258.3,642.5 261,633.4 264,624.8 267.4,616.5 270.9,609.2 275,602 279,595.9 283.5,590 288,585 290.6,582.6 293.1,580.4 298.1,576.6 301.1,574.7 303.6,573.3 306.2,572 309.2,570.7 312.2,569.6 315.2,568.7 317.7,568.2 320.8,567.7 323.8,567.4 326.8,567.3 329.8,567.4 332.8,567.7 335.8,568.2 338.4,568.8 341.4,569.7 343.9,570.7 346.4,571.8 348.9,573.1 351.4,574.6 354,576.3 356.5,578.2 359,580.4 361.5,582.8 363.5,585 367.6,590.1 371.1,595.4 374.6,601.7 377.8,608.7 380.6,616.3 383.2,624.4 385.3,632.9 387.3,642.5 389,652.5M549.2,652.5 549.4,634.9 550.1,619.3 551.3,605.7 552,599.6 552.9,593.6 554.1,587.5 555.3,582 556.5,577 558,571.9 559.7,566.9 561.5,562.4 563.5,557.8 565.6,553.8 567.8,549.8 570.5,545.7 573.4,541.8 576.4,538.2 579.4,535.1 582.4,532.3 586,529.4 589.5,526.9 593,524.8 597,522.7 601.1,521 605.1,519.7 609.1,518.6 613.6,517.8 617.7,517.3 622.2,517.2 626.2,517.3 630.8,517.8 635.3,518.7 639.3,519.7 643.3,521.1 647.4,522.7 651.4,524.7 655.4,527 659.4,529.7 663,532.4 666.5,535.4 670,538.8 673.5,542.6 676.5,546.2 679.6,550.3 682.1,554.1 684.6,558.2 687.1,562.8 689.6,567.9 691.9,572.9 693.9,578 695.9,583.5 697.7,589.2 699.4,595.1 700.9,601.1 702.4,607.7 703.7,614.5 704.9,621.3 707,635.9 708.7,652.5M125.5,546.3 130,541.9 135.1,537.8 140.1,534.3 145.6,531.1M738,137.5 733.4,139.1 728.9,140.3 723.9,141.3 719.3,141.7 714.3,141.7 709.8,141.4 704.7,140.6 700.2,139.4 695.7,137.9 691.1,135.9 687.1,133.7 683.1,131 679.1,127.9 675.5,124.7 672,121 668.5,116.7 665.5,112.4 663,108.2 660.4,103.5 658.3,98.8 656.3,93.8 654.4,88.3 652.8,82.7 651.3,76.6 650.1,70.6 649,64 648,57 647.2,49.4 646.6,41.4 646.1,32.8 645.8,23.7 645.6,13.7M169.7,13.7 168.4,24.2 167,33.8 165.3,42.9 163.6,51.4 161.6,59.5 159.4,67.6 156.9,75.1 154.3,82.2 151.6,88.7 148.4,95.3 145.1,101.3 141.6,106.9 138.1,111.8 134,116.8 130,121.1 125.5,125.3M486.7,13.7 485.1,24.2 483.3,33.6 481.2,42.4 478.7,50.9 475.9,58.5 472.7,65.8 469.3,72.1 465.7,77.7 461.7,82.7 459.6,84.9 457.1,87.4 454.6,89.6 452.1,91.5 449.6,93.3 447.1,94.8 444.6,96.1 441.5,97.4 438.5,98.5 436,99.2 433.5,99.8 430.5,100.3 427.4,100.6 424.4,100.6 421.4,100.5 418.4,100.2 415.4,99.7 412.3,99 409.3,98.1 406.3,97 403.3,95.6 400.8,94.4 397.7,92.6 395.2,91 390.2,87.2 385.2,82.6 382.7,80 380.1,77.1 375.6,71.2 371.3,64.5 367.3,57.5 363.7,49.9 360.4,41.9 357.2,32.8 354.5,23.8 351.9,13.7M258.8,652.5 261.4,644.7 264.1,637.4 267.2,630.4 270.4,623.8 273.9,617.7 278,611.6 282,606.5 286,602 290.6,597.8 295.1,594.2 299.6,591.2 304.6,588.6 309.7,586.6 314.7,585.1 319.7,584.2 322.8,584 325.3,583.9 330.3,584.2 335.3,585 340.4,586.5 345.4,588.6 349.9,591.1 354.5,594.2 359,598.1 363,602.3 366.5,606.6 370.1,611.8 373.3,617.3 376.2,623.3 378.9,629.9 381.4,636.9 383.7,644.6 385.6,652.5M552.1,652.5 553.1,638.9 554.6,626.8 556.4,615.8 558.7,605.7 560.1,600.6 561.5,596.1 563.1,591.6 564.8,587.4 566.6,583.5 568.6,579.5 570.6,576 572.8,572.4 575.4,568.8 577.9,565.6 580.4,562.7 583.2,559.8 586,557.4 589,554.9 592,552.7 595.5,550.5 599,548.7 602.6,547.1 606.1,545.8 609.6,544.7 613.1,543.9 616.7,543.3 620.2,542.9 624.2,542.8 628.2,542.9 631.8,543.2 635.3,543.8 638.8,544.6 642.8,545.8 646.4,547.1 649.9,548.6 653.4,550.4 656.9,552.5 659.9,554.5 663.5,557.1 666.5,559.7 669.5,562.5 672.5,565.6 675.5,569.1 678.2,572.4 680.6,575.8 683.1,579.6 685.4,583.5 687.6,587.6 689.8,592.1 691.8,596.6 693.7,601.2 695.5,606.2 698.7,616.4 701.5,627.3 703.9,639.4 706,652.5M125.5,568.6 129,565.3 133,561.9 137.1,559 141.1,556.6M743,112.2 738.4,114.1 734.4,115.4 730.4,116.4 725.9,117.2 721.3,117.6 716.8,117.6 712.3,117.3 708.3,116.6 703.7,115.6 699.7,114.2 695.7,112.6 691.6,110.5 687.6,108.1 684.1,105.5 680.6,102.6 677.1,99.2 674,95.8 671,92 668.5,88.3 666,84.2 663.5,79.7 661.5,75.2 659.4,70.4 657.5,65.1 655.9,59.8 654.4,54.1 653.1,48.4 651.9,42 650.9,35.7 650,28.8 649.2,21.2 648.6,13.7M167,13.7 165.7,21.2 164.1,28.8 162.5,35.8 160.6,42.9 158.7,49.1 156.5,55.5 154.2,61.6 151.7,67.4 149.1,72.5 146.1,78 143.1,82.9 140.1,87.2 136.6,91.7 133,95.7 129.5,99.3 125.5,102.8M483.3,13.7 481.4,22.2 479.3,29.7 476.9,36.8 474.2,43.5 471.2,49.9 468.2,55.3 464.7,60.6 461.2,65.1 457.1,69.3 452.6,73.3 448.1,76.5 443.5,79 438.5,81.2 433.5,82.7 428.4,83.6 425.9,83.8 422.9,83.9 420.4,83.8 417.4,83.6 412.3,82.7 409.3,81.9 406.8,81.1 401.8,79.1 396.7,76.4 391.7,73.1 387.2,69.5 382.7,65.2 378.6,60.8 374.6,55.6 370.6,49.6 367,43.5 363.5,36.5 360.5,29.5 357.5,21.5 354.9,13.7M262,652.5 264.7,646 267.4,640 270.4,634.2 273.4,629 277,623.8 280.5,619.2 284,615.2 288,611.2 292.1,607.9 296.6,604.6 301.1,602 305.7,599.9 310.2,598.2 314.7,597.1 319.2,596.4 324.3,596.1 329.3,596.4 333.8,597.1 338.4,598.3 342.9,600 347.4,602.2 351.4,604.7 355.5,607.7 359,610.9 362.5,614.6 366,618.9 369.1,623.2 372.2,628.4 375.1,634 377.6,639.7 380,646 382.2,652.5M555,652.5 556.6,641.5 558.4,631.4 560.8,621.8 563.3,613.5 566.3,605.5 568.1,601.7 569.9,598.1 573.6,591.6 575.6,588.6 577.9,585.3 580.4,582.2 582.9,579.5 585.5,576.9 588,574.7 590.5,572.6 593.5,570.4 596.5,568.5 599.6,566.8 602.6,565.3 605.6,564.1 608.6,563 612.1,562 615.7,561.2 618.7,560.8 622.2,560.4 625.7,560.3 629.2,560.4 632.8,560.8 635.8,561.2 639.3,562 642.8,563 645.9,564 648.9,565.2 651.9,566.6 654.9,568.2 657.9,570.1 660.9,572.1 664,574.4 667,576.9 669.5,579.2 672.5,582.3 675,585.2 677.6,588.3 680,591.6 684.2,598.1 686.3,601.7 688.4,605.7 692.1,613.9 695.6,622.8 698.4,631.9 701.1,642 703.3,652.5M125.5,584.2 128.5,581.4 132,578.5 135.1,576.3 138.6,574M745.5,94.9 741.5,96.7 737.4,98.2 733.4,99.3 729.4,100.2 725.4,100.7 721.3,100.9 717.3,100.9 713.3,100.5 709.3,99.8 705.2,98.8 701.2,97.5 697.2,95.8 693.7,94 690.1,91.9 686.6,89.5 683.1,86.6 680.1,83.8 677.1,80.6 674.2,77.1 671.6,73.6 669,69.7 666.9,66.1 664.8,62 662.7,57.5 660.8,53 659,47.9 657.5,42.9 656.1,37.8 654.8,32.3 653.6,26.3 652.5,20.2 651.6,13.7M164.3,13.7 162.8,20.2 161.2,26.1 159.6,31.8 157.7,37.5 155.7,43 153.7,47.9 151.4,53 149.1,57.4 146.6,62 144.1,66.1 141.1,70.5 138.3,74.1 135.1,78 132,81.2 129,84.1 125.5,87.1M479.9,13.7 477.8,20.6 475.5,26.8 472.9,32.8 470.2,38.3 467.2,43.5 464.2,48 460.7,52.4 457.1,56.2 453.1,59.9 449.1,62.9 445.1,65.4 440.5,67.7 436,69.4 431.5,70.6 426.9,71.3 421.9,71.6 416.9,71.4 412.3,70.7 407.3,69.4 402.8,67.8 397.7,65.4 393.2,62.7 388.7,59.5 384.7,56.1 380.6,52.1 376.6,47.5 373.1,42.8 369.8,37.8 366.5,32.4 363.5,26.5 360.7,20.2 358.1,13.7"/>
</g>
<path fill="#fff" fill-rule="evenodd" d="M115.4,3.5H773.7V662.3H115.4ZM128.35,16.52H760.75V649.68H128.35Z"/>
<path fill="none" stroke="#fff" stroke-width="1.8" d="M749.38,81.23 751,65.92 752.42,50.29 753.69,33.77 754.85,15.81"/>
<path fill="none" stroke="#fff" stroke-width="1.8" d="M139.72,584.97 138.1,600.28 136.68,615.91 135.41,632.43 134.25,650.39"/>
<g fill="none" stroke="#00FF00" stroke-linejoin="round">
<path stroke-width="6.5" d="M540,256.2 544.06,257.99 548.27,259.65 552.61,261.18 557.09,262.58 561.65,263.84 566.44,264.99 571.34,265.99 576.27,266.83 581.55,267.56 586.74,268.12 591.77,268.5 597.04,268.74 602.06,268.83 607.28,268.77 612.71,268.55 617.78,268.18 623.02,267.65 627.82,267.02 632.75,266.21 637.8,265.22 642.32,264.18 646.93,262.96 651.6,261.54 655.66,260.15 659.75,258.6 663.85,256.86 667.96,254.94 672.04,252.81 676.08,250.49 679.39,248.41 683.28,245.73 686.44,243.35 688.9,241.36 691.88,238.78 694.74,236.1 697.49,233.34 699.97,230.66 702.31,227.97 704.51,225.27 708.53,219.89 710.36,217.22 713.7,211.96 715.22,209.38 718.01,204.34 721.62,197.07 723.71,192.43 725.6,187.96 727.3,183.65 729.56,177.47 732.71,167.88 735.73,157.4 738.51,146.36 741.28,133.72 743.64,121.29 745.8,108.14 747.83,93.79"/>
<path stroke-width="6.5" d="M349.1,410 345.04,408.21 340.83,406.55 336.49,405.02 332.01,403.62 327.45,402.36 322.66,401.21 317.76,400.21 312.83,399.37 307.55,398.64 302.36,398.08 297.33,397.7 292.06,397.46 287.04,397.37 281.82,397.43 276.39,397.65 271.32,398.02 266.08,398.55 261.28,399.18 256.35,399.99 251.3,400.98 246.78,402.02 242.17,403.24 237.5,404.66 233.44,406.05 229.35,407.6 225.25,409.34 221.14,411.26 217.06,413.39 213.02,415.71 209.71,417.79 205.82,420.47 202.66,422.85 200.2,424.84 197.22,427.42 194.36,430.1 191.61,432.86 189.13,435.54 186.79,438.23 184.59,440.93 180.57,446.31 178.74,448.98 175.4,454.24 173.88,456.82 171.09,461.86 167.48,469.13 165.39,473.77 163.5,478.24 161.8,482.55 159.54,488.73 156.39,498.32 153.37,508.8 150.59,519.84 147.82,532.48 145.46,544.91 143.3,558.06 141.27,572.41"/>
<path stroke-width="5.2" d="M747.95,92.9 748.5,88.58"/>
<path stroke-width="5.2" d="M141.15,573.3 140.6,577.62"/>
<path stroke-width="4" d="M748.5,88.58 749,84.43"/>
<path stroke-width="4" d="M140.6,577.62 140.1,581.77"/>
<path stroke-width="3.8" d="M748.4,88 749,86 748.7,84.5 749.8,83 749.6,81 750.4,79.5 749.8,77.5"/>
<path stroke-width="3.8" d="M140.7,578.2 140.1,580.2 140.4,581.7 139.3,583.2 139.5,585.2 138.7,586.7 139.3,588.7"/>
<path stroke-width="3" d="M749.8,77.5 750.5,75.5 750,73.5 750.9,71.5 750.3,69.5 750.9,67.5 750.4,65.5 751.2,63.5 750.6,61.5 751.3,59.5 750.8,57.5 751.5,55.5 751,53.5 751.4,52 752.2,50.8"/>
<path stroke-width="3" d="M139.3,588.7 138.6,590.7 139.1,592.7 138.2,594.7 138.8,596.7 138.2,598.7 138.7,600.7 137.9,602.7 138.5,604.7 137.8,606.7 138.3,608.7 137.6,610.7 138.1,612.7 137.7,614.2 136.9,615.4"/>
<path stroke-width="1.7" d="M752,51 753.6,50.2 753.8,40 753.9,30 753.7,22 753.6,16.2"/>
<path stroke-width="1.7" d="M137.1,615.2 135.5,616 135.3,626.2 135.2,636.2 135.4,644.2 135.5,650"/>
</g>
<g fill="none" stroke="#00FF00" stroke-linejoin="round" clip-path="url(#pc3)">
<path stroke-width="6.5" d="M540,256.2 541.97,253.41 551.27,240.9 569.12,217.77 575.91,208.3 581.53,199.69 584.16,195.16 586.29,191.25 589.16,185.52 591.44,180.37 596.06,169.24 598.5,163.18 600.56,157.84 602.6,152.2 604.6,146.23 608.72,132.57 612.91,117.9 614.69,111.12 616.56,103.34 618.17,95.99 619.85,87.46 621.34,79.16 622.73,70.54 623.92,62.32 625.14,52.96 626.23,43.52 627.21,33.81 628.1,23.74 628.69,16.06 628.97,13.66"/>
<path stroke-width="6.5" d="M349.1,410 347.13,412.79 337.83,425.3 319.98,448.43 313.19,457.9 307.57,466.51 304.94,471.04 302.81,474.95 299.94,480.68 297.66,485.83 293.04,496.96 290.6,503.02 288.54,508.36 286.5,514 284.5,519.97 280.38,533.63 276.19,548.3 274.41,555.08 272.54,562.86 270.93,570.21 269.25,578.74 267.76,587.04 266.37,595.66 265.18,603.88 263.96,613.24 262.87,622.68 261.89,632.39 261,642.46 260.41,650.14 260.13,652.54"/>
</g>
<g clip-path="url(#pc2)"><path fill="none" stroke="#0000FF" stroke-width="4.4" stroke-linejoin="round" d="M543.27,652.54 541.68,639.55 539.99,627.35 538.15,615.65 536.14,604.2 533.95,593.09 531.61,582.45 529.1,572.17 526.58,562.86 523.56,552.76 520.54,543.61 517.52,535.26 514,526.36 510.48,518.25 508.46,513.91 506.45,509.77 502.42,502.03 498.4,494.93 496.38,491.58 493.87,487.59 489.34,480.85 484.81,474.66 482.29,471.43 479.78,468.33 477.26,465.37 474.75,462.53 472.23,459.81 469.21,456.7 466.69,454.21 463.67,451.37 460.65,448.66 458.14,446.51 452.6,442.07 447.07,438.02 441.53,434.33 435.99,430.98 432.47,429 429.45,427.41 425.93,425.65 422.41,424 416.37,421.4 406.94,417.75 405.3,417.02 404.29,416.44 403.79,416.02 403.53,415.73 403.28,415.23 403.16,414.72 403.15,413.72 403.3,412.71 404.05,409.69 405.54,405.15 407.65,399.61 409.99,394.07 412.54,388.52 415.53,382.48 418.69,376.43 421.17,371.9 424.3,366.35 430.84,355.27 437.63,344.18 453.34,318.99 461.27,305.89 465.09,299.34 468.49,293.3 471.48,287.75 474.08,282.72 476.56,277.68 479.11,272.13 481.04,267.6 483.01,262.56 484.58,258.03 485.59,254.5 485.95,252.48 485.94,251.48 485.82,250.97 485.57,250.47 485.1,249.96 484.35,249.46 483.34,248.96 472.73,244.8 466.69,242.2 463.17,240.55 460.15,239.05 456.63,237.2 453.61,235.51 448.07,232.18 445.05,230.23 442.03,228.18 436.5,224.13 430.96,219.69 428.45,217.54 425.43,214.83 422.41,211.99 419.89,209.5 416.87,206.39 414.36,203.67 411.84,200.83 409.32,197.87 406.81,194.77 404.29,191.54 399.76,185.35 395.23,178.61 392.72,174.62 390.7,171.27 386.68,164.17 382.65,156.43 380.64,152.29 378.62,147.95 375.1,139.84 371.58,130.94 368.56,122.59 365.54,113.44 362.52,103.34 360,94.03 357.49,83.75 355.15,73.11 352.96,62 350.95,50.55 349.11,38.85 347.42,26.65 345.83,13.66M352.46,409.96 356.48,410 360.51,410.12 368.06,410.58 372.08,410.96 375.6,411.36 379.63,411.92 383.15,412.48 387.06,413.21 391.21,414.11 394.23,414.88 396.97,415.73 398.2,416.24 399.09,416.74 399.63,417.24 399.94,417.75 400.09,418.25 400.15,419.26 399.99,420.77 398.25,430.18 397.48,434.88 396.66,440.92 396.01,446.97 395.47,453.52 395.01,461.08 394.69,469.14 394.47,477.7 394.31,494.84 394.37,516.5 395.31,606.69 395.7,652.54M542.14,259.54 543.96,262.06 545.52,264.07 548.98,268.1 552.86,272.13 557.18,276.16 561.93,280.2 567.12,284.23 572.75,288.26 578.83,292.29 584.51,295.82 590.51,299.34 596.82,302.87 603.41,306.4 616.28,312.95 645.35,327.23 652.39,330.83 658.93,334.32 664.97,337.71 670.72,341.16 676.05,344.61 680.45,347.71 685.1,351.29 687.45,353.25 689.72,355.27 691.85,357.28 693.85,359.3 695.71,361.32 697.46,363.33 699.09,365.35 700.7,367.49 702.21,369.65 703.72,371.99 705.16,374.42 706.26,376.43 707.53,378.95 708.69,381.47 709.94,384.49 711.06,387.52 712.06,390.54 712.96,393.56 713.79,396.74 714.56,400.11 715.27,403.64 715.89,407.17 716.42,410.69 716.93,414.72 717.36,418.75 717.75,423.29 718.3,432.36 718.62,442.44 718.71,449.49 718.72,457.05 718.46,475.19 717.92,495.34 716.17,550.26 715.42,577.47 714.64,613.74 714.03,652.54M175.07,13.66 174.46,52.46 173.68,88.73 172.93,115.94 171.18,170.86 170.64,191.01 170.38,209.15 170.39,216.71 170.48,223.76 170.8,233.84 171.35,242.91 171.74,247.45 172.17,251.48 172.68,255.51 173.21,259.03 173.83,262.56 174.54,266.09 175.31,269.46 176.14,272.64 177.04,275.66 178.04,278.68 179.16,281.71 180.41,284.73 181.57,287.25 182.84,289.77 183.94,291.78 185.38,294.21 186.89,296.55 188.4,298.71 190.01,300.85 191.64,302.87 193.39,304.88 195.25,306.9 197.25,308.92 199.38,310.93 201.65,312.95 204,314.91 208.65,318.49 213.05,321.59 218.38,325.04 224.13,328.49 230.17,331.88 236.71,335.37 243.75,338.97 272.82,353.25 285.69,359.8 292.28,363.33 298.59,366.86 304.59,370.38 310.27,373.91 316.35,377.94 321.98,381.97 327.17,386 331.92,390.04 336.24,394.07 340.12,398.1 343.58,402.13 345.14,404.14 346.96,406.66M493.4,13.66 493.79,59.51 494.73,149.7 494.79,171.36 494.63,188.5 494.41,197.06 494.09,205.12 493.63,212.68 493.09,219.23 492.44,225.28 491.62,231.32 490.85,236.02 489.11,245.43 488.95,246.94 489.01,247.95 489.16,248.45 489.47,248.96 490.01,249.46 490.9,249.96 492.13,250.47 494.88,251.32 497.89,252.09 502.04,252.99 505.95,253.72 509.47,254.28 513.5,254.84 517.02,255.24 521.04,255.62 528.59,256.08 532.62,256.2 536.64,256.24M548.33,243.25 550.03,240.9 554.98,234.35 567.85,217.77 572.54,211.46M340.77,422.95 339.07,425.3 334.12,431.85 321.25,448.43 316.56,454.74M602.49,162.29 604.58,157.84 607.1,152.2 609.62,146.23 612.13,139.87 614.83,132.57 617.16,125.78 619.68,117.9 621.69,111.12 623.84,103.34 625.72,95.99 627.73,87.46 629.54,79.16 631.26,70.54 632.77,62.32 634.34,52.96 635.79,43.52 637.14,33.81 638.41,23.74 639.57,13.66M286.61,503.91 284.52,508.36 282,514 279.48,519.97 276.97,526.33 274.27,533.63 271.94,540.42 269.42,548.3 267.41,555.08 265.26,562.86 263.38,570.21 261.37,578.74 259.56,587.04 257.84,595.66 256.33,603.88 254.76,613.24 253.31,622.68 251.96,632.39 250.69,642.46 249.53,652.54"/></g>
<circle cx="487.5" cy="249.7" r="10" fill="#FFFF00"/>
<circle cx="401.6" cy="416.5" r="10" fill="#FFFF00"/>
<circle cx="540" cy="256.2" r="10" fill="#FF0000"/>
<circle cx="349.1" cy="410" r="10" fill="#FF0000"/>
<circle cx="444.55" cy="333.1" r="10" fill="#000"/>
<path fill="none" stroke="#707070" stroke-width="0.9" d="M122.47,662.3v-4.8M122.47,3.5v4.8M115.4,655.56h4.8M773.7,655.56h-4.8M142.6,662.3v-8.3M142.6,3.5v8.3M115.4,635.41h8.3M773.7,635.41h-8.3M162.73,662.3v-4.8M162.73,3.5v4.8M115.4,615.26h4.8M773.7,615.26h-4.8M182.86,662.3v-4.8M182.86,3.5v4.8M115.4,595.1h4.8M773.7,595.1h-4.8M202.99,662.3v-4.8M202.99,3.5v4.8M115.4,574.95h4.8M773.7,574.95h-4.8M223.12,662.3v-4.8M223.12,3.5v4.8M115.4,554.79h4.8M773.7,554.79h-4.8M243.25,662.3v-8.3M243.25,3.5v8.3M115.4,534.64h8.3M773.7,534.64h-8.3M263.38,662.3v-4.8M263.38,3.5v4.8M115.4,514.49h4.8M773.7,514.49h-4.8M283.51,662.3v-4.8M283.51,3.5v4.8M115.4,494.33h4.8M773.7,494.33h-4.8M303.64,662.3v-4.8M303.64,3.5v4.8M115.4,474.18h4.8M773.7,474.18h-4.8M323.77,662.3v-4.8M323.77,3.5v4.8M115.4,454.02h4.8M773.7,454.02h-4.8M343.9,662.3v-8.3M343.9,3.5v8.3M115.4,433.87h8.3M773.7,433.87h-8.3M364.03,662.3v-4.8M364.03,3.5v4.8M115.4,413.72h4.8M773.7,413.72h-4.8M384.16,662.3v-4.8M384.16,3.5v4.8M115.4,393.56h4.8M773.7,393.56h-4.8M404.29,662.3v-4.8M404.29,3.5v4.8M115.4,373.41h4.8M773.7,373.41h-4.8M424.42,662.3v-4.8M424.42,3.5v4.8M115.4,353.25h4.8M773.7,353.25h-4.8M444.55,662.3v-8.3M444.55,3.5v8.3M115.4,333.1h8.3M773.7,333.1h-8.3M464.68,662.3v-4.8M464.68,3.5v4.8M115.4,312.95h4.8M773.7,312.95h-4.8M484.81,662.3v-4.8M484.81,3.5v4.8M115.4,292.79h4.8M773.7,292.79h-4.8M504.94,662.3v-4.8M504.94,3.5v4.8M115.4,272.64h4.8M773.7,272.64h-4.8M525.07,662.3v-4.8M525.07,3.5v4.8M115.4,252.48h4.8M773.7,252.48h-4.8M545.2,662.3v-8.3M545.2,3.5v8.3M115.4,232.33h8.3M773.7,232.33h-8.3M565.33,662.3v-4.8M565.33,3.5v4.8M115.4,212.18h4.8M773.7,212.18h-4.8M585.46,662.3v-4.8M585.46,3.5v4.8M115.4,192.02h4.8M773.7,192.02h-4.8M605.59,662.3v-4.8M605.59,3.5v4.8M115.4,171.87h4.8M773.7,171.87h-4.8M625.72,662.3v-4.8M625.72,3.5v4.8M115.4,151.71h4.8M773.7,151.71h-4.8M645.85,662.3v-8.3M645.85,3.5v8.3M115.4,131.56h8.3M773.7,131.56h-8.3M665.98,662.3v-4.8M665.98,3.5v4.8M115.4,111.41h4.8M773.7,111.41h-4.8M686.11,662.3v-4.8M686.11,3.5v4.8M115.4,91.25h4.8M773.7,91.25h-4.8M706.24,662.3v-4.8M706.24,3.5v4.8M115.4,71.1h4.8M773.7,71.1h-4.8M726.37,662.3v-4.8M726.37,3.5v4.8M115.4,50.94h4.8M773.7,50.94h-4.8M746.5,662.3v-8.3M746.5,3.5v8.3M115.4,30.79h8.3M773.7,30.79h-8.3M766.63,662.3v-4.8M766.63,3.5v4.8M115.4,10.64h4.8M773.7,10.64h-4.8"/>
<rect x="115.4" y="3.5" width="658.3" height="658.8" fill="none" stroke="#505050" stroke-width="1.05"/>
<g fill="#000"><rect x="124.69" y="684.65" width="14.9" height="2.3"/><text transform="translate(140.89,694.3) scale(1.05,1.09)" font-size="29.5">3</text></g>
<g fill="#000"><rect x="73.83" y="634.31" width="14.9" height="2.3"/><text transform="translate(90.03,643.96) scale(1.05,1.09)" font-size="29.5">3</text></g>
<g fill="#000"><rect x="225.34" y="684.65" width="14.9" height="2.3"/><text transform="translate(241.54,694.3) scale(1.05,1.09)" font-size="29.5">2</text></g>
<g fill="#000"><rect x="73.83" y="533.54" width="14.9" height="2.3"/><text transform="translate(90.03,543.19) scale(1.05,1.09)" font-size="29.5">2</text></g>
<g fill="#000"><rect x="325.99" y="684.65" width="14.9" height="2.3"/><path transform="translate(342.19,694.3) scale(0.01512,-0.01570)" d="M763 0L583 0L583 1147Q518 1085 412.5 1023Q307 961 223 930L223 1104Q374 1175 487 1276Q600 1377 647 1472L763 1472Z"/></g>
<g fill="#000"><rect x="73.83" y="432.77" width="14.9" height="2.3"/><path transform="translate(90.03,442.42) scale(0.01512,-0.01570)" d="M763 0L583 0L583 1147Q518 1085 412.5 1023Q307 961 223 930L223 1104Q374 1175 487 1276Q600 1377 647 1472L763 1472Z"/></g>
<g fill="#000"><text transform="translate(433.74,694.3) scale(1.05,1.09)" font-size="29.5">0</text></g>
<g fill="#000"><text transform="translate(90.03,341.65) scale(1.05,1.09)" font-size="29.5">0</text></g>
<g fill="#000"><path transform="translate(534.39,694.3) scale(0.01512,-0.01570)" d="M763 0L583 0L583 1147Q518 1085 412.5 1023Q307 961 223 930L223 1104Q374 1175 487 1276Q600 1377 647 1472L763 1472Z"/></g>
<g fill="#000"><path transform="translate(90.03,240.88) scale(0.01512,-0.01570)" d="M763 0L583 0L583 1147Q518 1085 412.5 1023Q307 961 223 930L223 1104Q374 1175 487 1276Q600 1377 647 1472L763 1472Z"/></g>
<g fill="#000"><text transform="translate(635.04,694.3) scale(1.05,1.09)" font-size="29.5">2</text></g>
<g fill="#000"><text transform="translate(90.03,140.11) scale(1.05,1.09)" font-size="29.5">2</text></g>
<g fill="#000"><text transform="translate(735.69,694.3) scale(1.05,1.09)" font-size="29.5">3</text></g>
<g fill="#000"><text transform="translate(90.03,39.34) scale(1.05,1.09)" font-size="29.5">3</text></g>
<text class="se" x="384" y="762.8" font-size="53" fill="#000">Re[<tspan font-style="italic" dx="-1.6">θ</tspan><tspan dx="-2">]</tspan></text>
<text class="se" transform="translate(45,392.9) rotate(-90)" font-size="53" fill="#000">Im[<tspan font-style="italic" dx="-1.6">θ</tspan><tspan dx="-2.2">]</tspan></text>
<rect x="816.7" y="157.3" width="28.5" height="44" fill="#FFF3C2"/>
<rect x="816.7" y="201" width="28.5" height="44" fill="#FEE3A2"/>
<rect x="816.7" y="244.7" width="28.5" height="44" fill="#F9CF87"/>
<rect x="816.7" y="288.4" width="28.5" height="44" fill="#F0BA6E"/>
<rect x="816.7" y="332.1" width="28.5" height="44" fill="#E9A755"/>
<rect x="816.7" y="375.8" width="28.5" height="44" fill="#CE9957"/>
<rect x="816.7" y="419.5" width="28.5" height="44" fill="#9E8673"/>
<rect x="816.7" y="463.2" width="28.5" height="44" fill="#6B7494"/>
<rect x="816.7" y="506.9" width="28.5" height="44" fill="#4062A5"/>
<rect x="816.7" y="550.6" width="28.5" height="44" fill="#25538B"/>
<path stroke="#6a6a68" stroke-opacity="0.95" stroke-width="1.05" fill="none" d="M816.7,201h28.5"/>
<path stroke="#6a6a68" stroke-opacity="0.95" stroke-width="1.05" fill="none" d="M816.7,244.7h28.5"/>
<path stroke="#6a6a68" stroke-opacity="0.95" stroke-width="1.05" fill="none" d="M816.7,288.4h28.5"/>
<path stroke="#6a6a68" stroke-opacity="0.95" stroke-width="1.05" fill="none" d="M816.7,332.1h28.5"/>
<path stroke="#6a6a68" stroke-opacity="0.95" stroke-width="1.05" fill="none" d="M816.7,375.8h28.5"/>
<path stroke="#a09484" stroke-opacity="0.6" stroke-width="1.05" fill="none" d="M816.7,419.5h28.5"/>
<path stroke="#a09484" stroke-opacity="0.6" stroke-width="1.05" fill="none" d="M816.7,463.2h28.5"/>
<path stroke="#a09484" stroke-opacity="0.6" stroke-width="1.05" fill="none" d="M816.7,506.9h28.5"/>
<path stroke="#8a8f98" stroke-opacity="0.85" stroke-width="1.05" fill="none" d="M816.7,550.6h28.5"/>
<rect x="816.7" y="157.3" width="28.5" height="437" fill="none" stroke="#000" stroke-opacity="0.12" stroke-width="0.6"/>
<path stroke="#d8d8d8" stroke-width="0.8" d="M845.2,201h9"/><g fill="#606060"><text transform="translate(858.4,209.7) scale(1.05,1.09)" font-size="29.5">2</text><text transform="translate(875.62,209.7) scale(1.05,1.09)" font-size="29.5">0</text></g>
<path stroke="#d8d8d8" stroke-width="0.8" d="M845.2,288.4h9"/><g fill="#606060"><path transform="translate(858.4,297.1) scale(0.01512,-0.01570)" d="M763 0L583 0L583 1147Q518 1085 412.5 1023Q307 961 223 930L223 1104Q374 1175 487 1276Q600 1377 647 1472L763 1472Z"/><text transform="translate(875.62,297.1) scale(1.05,1.09)" font-size="29.5">0</text></g>
<path stroke="#d8d8d8" stroke-width="0.8" d="M845.2,375.8h9"/><g fill="#606060"><text transform="translate(858.4,384.5) scale(1.05,1.09)" font-size="29.5">0</text></g>
<path stroke="#d8d8d8" stroke-width="0.8" d="M845.2,463.2h9"/><g fill="#606060"><rect x="860.3" y="462.25" width="14.9" height="2.3"/><path transform="translate(876.5,471.9) scale(0.01512,-0.01570)" d="M763 0L583 0L583 1147Q518 1085 412.5 1023Q307 961 223 930L223 1104Q374 1175 487 1276Q600 1377 647 1472L763 1472Z"/><text transform="translate(893.72,471.9) scale(1.05,1.09)" font-size="29.5">0</text></g>
<path stroke="#d8d8d8" stroke-width="0.8" d="M845.2,550.6h9"/><g fill="#606060"><rect x="860.3" y="549.65" width="14.9" height="2.3"/><text transform="translate(876.5,559.3) scale(1.05,1.09)" font-size="29.5">2</text><text transform="translate(893.72,559.3) scale(1.05,1.09)" font-size="29.5">0</text></g>
</svg>
</body></html>
